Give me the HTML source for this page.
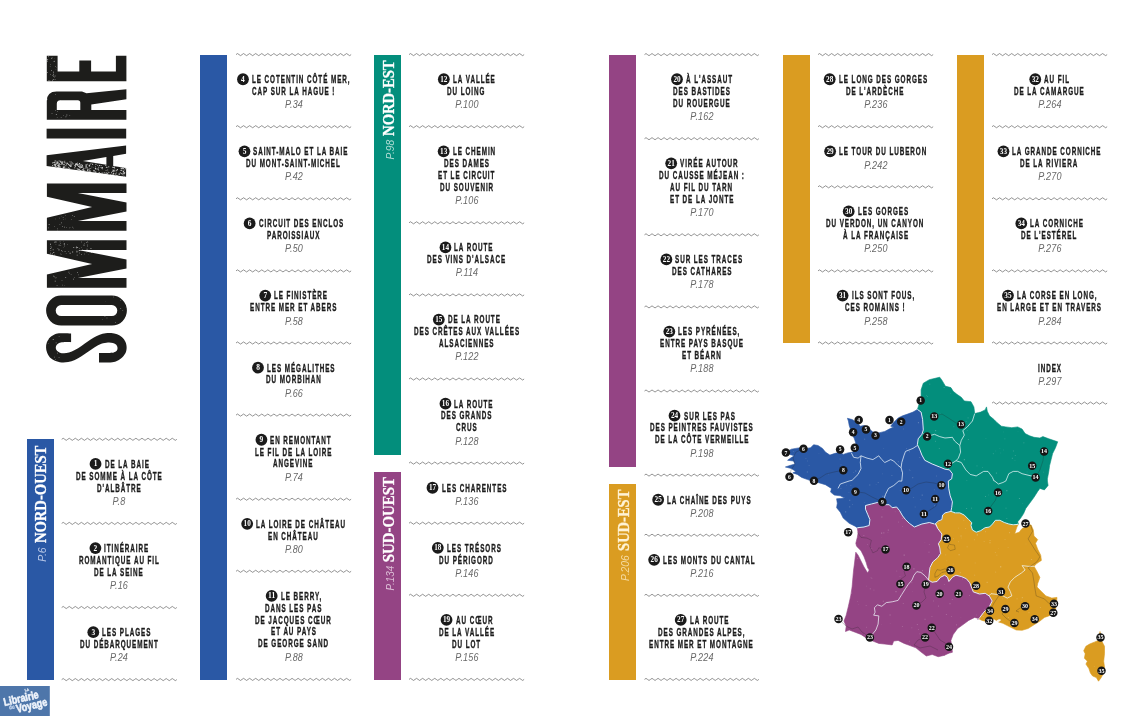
<!DOCTYPE html>
<html><head><meta charset="utf-8"><title>Sommaire</title>
<style>
html,body{margin:0;padding:0;background:#fff;}
body{width:1146px;height:716px;position:relative;overflow:hidden;font-family:"Liberation Sans",sans-serif;}
.bar{position:absolute;width:27.4px;}
.t{position:absolute;white-space:nowrap;font-weight:bold;font-size:10.3px;line-height:11.85px;height:11.85px;color:#1b1b1b;letter-spacing:1.52px;-webkit-text-stroke:0.35px #1b1b1b;transform-origin:0 50%;transform:scaleX(0.613);}
.p{position:absolute;white-space:nowrap;font-style:italic;font-size:10.5px;line-height:10px;color:#686868;text-align:center;letter-spacing:0.2px;transform:scaleX(0.86);transform-origin:50% 50%;}
svg{position:absolute;left:0;top:0;}
#w{position:absolute;left:0;top:0;width:1146px;height:716px;will-change:transform;}
</style></head><body><div id="w">

<div class="bar" style="left:27px;top:438.6px;height:241.2px;background:#2a58a5"></div>
<div class="bar" style="left:200.1px;top:54.6px;height:625.2px;background:#2a58a5"></div>
<div class="bar" style="left:374.1px;top:54.6px;height:400.4px;background:#038e7c"></div>
<div class="bar" style="left:374.1px;top:471.5px;height:208.3px;background:#944484"></div>
<div class="bar" style="left:609px;top:54.6px;height:412.6px;background:#944484"></div>
<div class="bar" style="left:609px;top:483.7px;height:196.1px;background:#da9c21"></div>
<div class="bar" style="left:782.8px;top:54.6px;height:288.6px;background:#da9c21"></div>
<div class="bar" style="left:956.7px;top:54.6px;height:288.6px;background:#da9c21"></div>
<div class="t" style="left:104.53px;top:458.87px">DE LA BAIE</div>
<div class="t" style="left:75.97px;top:470.72px">DE SOMME À LA CÔTE</div>
<div class="t" style="left:97.01px;top:482.57px">D'ALBÂTRE</div>
<div class="p" style="left:59.2px;width:120px;top:495.83px">P.8</div>
<div class="t" style="left:104.42px;top:542.97px">ITINÉRAIRE</div>
<div class="t" style="left:78.89px;top:554.82px">ROMANTIQUE AU FIL</div>
<div class="t" style="left:94.49px;top:566.67px">DE LA SEINE</div>
<div class="p" style="left:59.2px;width:120px;top:579.93px">P.16</div>
<div class="t" style="left:102.31px;top:627.07px">LES PLAGES</div>
<div class="t" style="left:79.88px;top:638.92px">DU DÉBARQUEMENT</div>
<div class="p" style="left:59.2px;width:120px;top:652.18px">P.24</div>
<div class="t" style="left:251.97px;top:74.17px">LE COTENTIN CÔTÉ MER,</div>
<div class="t" style="left:251.85px;top:86.02px">CAP SUR LA HAGUE !</div>
<div class="p" style="left:233.5px;width:120px;top:99.28px">P.34</div>
<div class="t" style="left:253.49px;top:146.27px">SAINT-MALO ET LA BAIE</div>
<div class="t" style="left:246.19px;top:158.12px">DU MONT-SAINT-MICHEL</div>
<div class="p" style="left:233.5px;width:120px;top:171.38px">P.42</div>
<div class="t" style="left:258.63px;top:218.37px">CIRCUIT DES ENCLOS</div>
<div class="t" style="left:266.92px;top:230.22px">PAROISSIAUX</div>
<div class="p" style="left:233.5px;width:120px;top:243.48px">P.50</div>
<div class="t" style="left:274.23px;top:290.47px">LE FINISTÈRE</div>
<div class="t" style="left:249.87px;top:302.32px">ENTRE MER ET ABERS</div>
<div class="p" style="left:233.5px;width:120px;top:315.58px">P.58</div>
<div class="t" style="left:266.98px;top:362.57px">LES MÉGALITHES</div>
<div class="t" style="left:265.64px;top:374.42px">DU MORBIHAN</div>
<div class="p" style="left:233.5px;width:120px;top:387.68px">P.66</div>
<div class="t" style="left:270.43px;top:434.67px">EN REMONTANT</div>
<div class="t" style="left:254.84px;top:446.52px">LE FIL DE LA LOIRE</div>
<div class="t" style="left:273.35px;top:458.37px">ANGEVINE</div>
<div class="p" style="left:233.5px;width:120px;top:471.63px">P.74</div>
<div class="t" style="left:256.18px;top:518.77px">LA LOIRE DE CHÂTEAU</div>
<div class="t" style="left:268.21px;top:530.62px">EN CHÂTEAU</div>
<div class="p" style="left:233.5px;width:120px;top:543.88px">P.80</div>
<div class="t" style="left:280.65px;top:590.87px">LE BERRY,</div>
<div class="t" style="left:264.88px;top:602.72px">DANS LES PAS</div>
<div class="t" style="left:255.18px;top:614.57px">DE JACQUES CŒUR</div>
<div class="t" style="left:270.60px;top:626.42px">ET AU PAYS</div>
<div class="t" style="left:258.10px;top:638.27px">DE GEORGE SAND</div>
<div class="p" style="left:233.5px;width:120px;top:651.53px">P.88</div>
<div class="t" style="left:452.83px;top:74.17px">LA VALLÉE</div>
<div class="t" style="left:447.41px;top:86.02px">DU LOING</div>
<div class="p" style="left:406.5px;width:120px;top:99.28px">P.100</div>
<div class="t" style="left:452.66px;top:146.27px">LE CHEMIN</div>
<div class="t" style="left:443.60px;top:158.12px">DES DAMES</div>
<div class="t" style="left:437.88px;top:169.97px">ET LE CIRCUIT</div>
<div class="t" style="left:439.51px;top:181.82px">DU SOUVENIR</div>
<div class="p" style="left:406.5px;width:120px;top:195.08px">P.106</div>
<div class="t" style="left:454.47px;top:242.37px">LA ROUTE</div>
<div class="t" style="left:427.02px;top:254.22px">DES VINS D'ALSACE</div>
<div class="p" style="left:406.5px;width:120px;top:267.48px">P.114</div>
<div class="t" style="left:447.81px;top:314.47px">DE LA ROUTE</div>
<div class="t" style="left:413.51px;top:326.32px">DES CRÊTES AUX VALLÉES</div>
<div class="t" style="left:438.81px;top:338.17px">ALSACIENNES</div>
<div class="p" style="left:406.5px;width:120px;top:351.43px">P.122</div>
<div class="t" style="left:454.47px;top:398.57px">LA ROUTE</div>
<div class="t" style="left:440.86px;top:410.42px">DES GRANDS</div>
<div class="t" style="left:455.76px;top:422.27px">CRUS</div>
<div class="p" style="left:406.5px;width:120px;top:435.53px">P.128</div>
<div class="t" style="left:441.50px;top:482.67px">LES CHARENTES</div>
<div class="p" style="left:406.5px;width:120px;top:495.93px">P.136</div>
<div class="t" style="left:446.81px;top:542.77px">LES TRÉSORS</div>
<div class="t" style="left:439.16px;top:554.62px">DU PÉRIGORD</div>
<div class="p" style="left:406.5px;width:120px;top:567.88px">P.146</div>
<div class="t" style="left:455.52px;top:614.87px">AU CŒUR</div>
<div class="t" style="left:438.52px;top:626.72px">DE LA VALLÉE</div>
<div class="t" style="left:452.02px;top:638.57px">DU LOT</div>
<div class="p" style="left:406.5px;width:120px;top:651.83px">P.156</div>
<div class="t" style="left:685.99px;top:74.17px">À L'ASSAUT</div>
<div class="t" style="left:672.89px;top:86.02px">DES BASTIDES</div>
<div class="t" style="left:673.01px;top:97.87px">DU ROUERGUE</div>
<div class="p" style="left:641.8px;width:120px;top:111.13px">P.162</div>
<div class="t" style="left:680.19px;top:158.27px">VIRÉE AUTOUR</div>
<div class="t" style="left:658.87px;top:170.12px">DU CAUSSE MÉJEAN :</div>
<div class="t" style="left:670.33px;top:181.97px">AU FIL DU TARN</div>
<div class="t" style="left:669.63px;top:193.82px">ET DE LA JONTE</div>
<div class="p" style="left:641.8px;width:120px;top:207.08px">P.170</div>
<div class="t" style="left:675.40px;top:254.37px">SUR LES TRACES</div>
<div class="t" style="left:671.55px;top:266.22px">DES CATHARES</div>
<div class="p" style="left:641.8px;width:120px;top:279.48px">P.178</div>
<div class="t" style="left:678.32px;top:326.47px">LES PYRÉNÉES,</div>
<div class="t" style="left:659.86px;top:338.32px">ENTRE PAYS BASQUE</div>
<div class="t" style="left:681.95px;top:350.17px">ET BÉARN</div>
<div class="p" style="left:641.8px;width:120px;top:363.43px">P.188</div>
<div class="t" style="left:683.52px;top:410.57px">SUR LES PAS</div>
<div class="t" style="left:649.99px;top:422.42px">DES PEINTRES FAUVISTES</div>
<div class="t" style="left:654.55px;top:434.27px">DE LA CÔTE VERMEILLE</div>
<div class="p" style="left:641.8px;width:120px;top:447.53px">P.198</div>
<div class="t" style="left:667.17px;top:494.67px">LA CHAÎNE DES PUYS</div>
<div class="p" style="left:641.8px;width:120px;top:507.93px">P.208</div>
<div class="t" style="left:663.14px;top:554.77px">LES MONTS DU CANTAL</div>
<div class="p" style="left:641.8px;width:120px;top:568.03px">P.216</div>
<div class="t" style="left:689.72px;top:614.87px">LA ROUTE</div>
<div class="t" style="left:658.11px;top:626.72px">DES GRANDES ALPES,</div>
<div class="t" style="left:649.47px;top:638.57px">ENTRE MER ET MONTAGNE</div>
<div class="p" style="left:641.8px;width:120px;top:651.83px">P.224</div>
<div class="t" style="left:838.70px;top:74.17px">LE LONG DES GORGES</div>
<div class="t" style="left:846.42px;top:86.02px">DE L'ARDÈCHE</div>
<div class="p" style="left:815.5px;width:120px;top:99.28px">P.236</div>
<div class="t" style="left:839.11px;top:146.27px">LE TOUR DU LUBERON</div>
<div class="p" style="left:815.5px;width:120px;top:159.53px">P.242</div>
<div class="t" style="left:857.68px;top:206.37px">LES GORGES</div>
<div class="t" style="left:826.43px;top:218.22px">DU VERDON, UN CANYON</div>
<div class="t" style="left:842.50px;top:230.07px">À LA FRANÇAISE</div>
<div class="p" style="left:815.5px;width:120px;top:243.33px">P.250</div>
<div class="t" style="left:851.61px;top:290.47px">ILS SONT FOUS,</div>
<div class="t" style="left:845.30px;top:302.32px">CES ROMAINS !</div>
<div class="p" style="left:815.5px;width:120px;top:315.58px">P.258</div>
<div class="t" style="left:1044.25px;top:74.17px">AU FIL</div>
<div class="t" style="left:1014.22px;top:86.02px">DE LA CAMARGUE</div>
<div class="p" style="left:989.5px;width:120px;top:99.28px">P.264</div>
<div class="t" style="left:1012.47px;top:146.27px">LA GRANDE CORNICHE</div>
<div class="t" style="left:1020.47px;top:158.12px">DE LA RIVIERA</div>
<div class="p" style="left:989.5px;width:120px;top:171.38px">P.270</div>
<div class="t" style="left:1030.29px;top:218.37px">LA CORNICHE</div>
<div class="t" style="left:1021.47px;top:230.22px">DE L'ESTÉREL</div>
<div class="p" style="left:989.5px;width:120px;top:243.48px">P.276</div>
<div class="t" style="left:1016.96px;top:290.47px">LA CORSE EN LONG,</div>
<div class="t" style="left:997.10px;top:302.32px">EN LARGE ET EN TRAVERS</div>
<div class="p" style="left:989.5px;width:120px;top:315.58px">P.284</div>
<div class="t" style="left:1037.59px;top:362.57px">INDEX</div>
<div class="p" style="left:989.5px;width:120px;top:375.83px">P.297</div>
<svg width="1146" height="716" viewBox="0 0 1146 716"><g fill="none" stroke="#6e6e6e" stroke-width="0.75" stroke-linejoin="round"><path d="M61.70,439.30q1.51,-2.08 3.03,0t3.03,0t3.03,0t3.03,0t3.03,0t3.03,0t3.03,0t3.03,0t3.03,0t3.03,0t3.03,0t3.03,0t3.03,0t3.03,0t3.03,0t3.03,0t3.03,0t3.03,0t3.03,0t3.03,0t3.03,0t3.03,0t3.03,0t3.03,0t3.03,0t3.03,0t3.03,0t3.03,0t3.03,0t3.03,0t3.03,0t3.03,0t3.03,0t3.03,0t3.03,0t3.03,0t3.03,0t3.03,0"/><path d="M61.70,523.40q1.51,-2.08 3.03,0t3.03,0t3.03,0t3.03,0t3.03,0t3.03,0t3.03,0t3.03,0t3.03,0t3.03,0t3.03,0t3.03,0t3.03,0t3.03,0t3.03,0t3.03,0t3.03,0t3.03,0t3.03,0t3.03,0t3.03,0t3.03,0t3.03,0t3.03,0t3.03,0t3.03,0t3.03,0t3.03,0t3.03,0t3.03,0t3.03,0t3.03,0t3.03,0t3.03,0t3.03,0t3.03,0t3.03,0t3.03,0"/><path d="M61.70,607.50q1.51,-2.08 3.03,0t3.03,0t3.03,0t3.03,0t3.03,0t3.03,0t3.03,0t3.03,0t3.03,0t3.03,0t3.03,0t3.03,0t3.03,0t3.03,0t3.03,0t3.03,0t3.03,0t3.03,0t3.03,0t3.03,0t3.03,0t3.03,0t3.03,0t3.03,0t3.03,0t3.03,0t3.03,0t3.03,0t3.03,0t3.03,0t3.03,0t3.03,0t3.03,0t3.03,0t3.03,0t3.03,0t3.03,0t3.03,0"/><path d="M61.70,679.60q1.51,-2.08 3.03,0t3.03,0t3.03,0t3.03,0t3.03,0t3.03,0t3.03,0t3.03,0t3.03,0t3.03,0t3.03,0t3.03,0t3.03,0t3.03,0t3.03,0t3.03,0t3.03,0t3.03,0t3.03,0t3.03,0t3.03,0t3.03,0t3.03,0t3.03,0t3.03,0t3.03,0t3.03,0t3.03,0t3.03,0t3.03,0t3.03,0t3.03,0t3.03,0t3.03,0t3.03,0t3.03,0t3.03,0t3.03,0"/><path d="M236.00,54.60q1.51,-2.08 3.03,0t3.03,0t3.03,0t3.03,0t3.03,0t3.03,0t3.03,0t3.03,0t3.03,0t3.03,0t3.03,0t3.03,0t3.03,0t3.03,0t3.03,0t3.03,0t3.03,0t3.03,0t3.03,0t3.03,0t3.03,0t3.03,0t3.03,0t3.03,0t3.03,0t3.03,0t3.03,0t3.03,0t3.03,0t3.03,0t3.03,0t3.03,0t3.03,0t3.03,0t3.03,0t3.03,0t3.03,0t3.03,0"/><path d="M236.00,126.70q1.51,-2.08 3.03,0t3.03,0t3.03,0t3.03,0t3.03,0t3.03,0t3.03,0t3.03,0t3.03,0t3.03,0t3.03,0t3.03,0t3.03,0t3.03,0t3.03,0t3.03,0t3.03,0t3.03,0t3.03,0t3.03,0t3.03,0t3.03,0t3.03,0t3.03,0t3.03,0t3.03,0t3.03,0t3.03,0t3.03,0t3.03,0t3.03,0t3.03,0t3.03,0t3.03,0t3.03,0t3.03,0t3.03,0t3.03,0"/><path d="M236.00,198.80q1.51,-2.08 3.03,0t3.03,0t3.03,0t3.03,0t3.03,0t3.03,0t3.03,0t3.03,0t3.03,0t3.03,0t3.03,0t3.03,0t3.03,0t3.03,0t3.03,0t3.03,0t3.03,0t3.03,0t3.03,0t3.03,0t3.03,0t3.03,0t3.03,0t3.03,0t3.03,0t3.03,0t3.03,0t3.03,0t3.03,0t3.03,0t3.03,0t3.03,0t3.03,0t3.03,0t3.03,0t3.03,0t3.03,0t3.03,0"/><path d="M236.00,270.90q1.51,-2.08 3.03,0t3.03,0t3.03,0t3.03,0t3.03,0t3.03,0t3.03,0t3.03,0t3.03,0t3.03,0t3.03,0t3.03,0t3.03,0t3.03,0t3.03,0t3.03,0t3.03,0t3.03,0t3.03,0t3.03,0t3.03,0t3.03,0t3.03,0t3.03,0t3.03,0t3.03,0t3.03,0t3.03,0t3.03,0t3.03,0t3.03,0t3.03,0t3.03,0t3.03,0t3.03,0t3.03,0t3.03,0t3.03,0"/><path d="M236.00,343.00q1.51,-2.08 3.03,0t3.03,0t3.03,0t3.03,0t3.03,0t3.03,0t3.03,0t3.03,0t3.03,0t3.03,0t3.03,0t3.03,0t3.03,0t3.03,0t3.03,0t3.03,0t3.03,0t3.03,0t3.03,0t3.03,0t3.03,0t3.03,0t3.03,0t3.03,0t3.03,0t3.03,0t3.03,0t3.03,0t3.03,0t3.03,0t3.03,0t3.03,0t3.03,0t3.03,0t3.03,0t3.03,0t3.03,0t3.03,0"/><path d="M236.00,415.10q1.51,-2.08 3.03,0t3.03,0t3.03,0t3.03,0t3.03,0t3.03,0t3.03,0t3.03,0t3.03,0t3.03,0t3.03,0t3.03,0t3.03,0t3.03,0t3.03,0t3.03,0t3.03,0t3.03,0t3.03,0t3.03,0t3.03,0t3.03,0t3.03,0t3.03,0t3.03,0t3.03,0t3.03,0t3.03,0t3.03,0t3.03,0t3.03,0t3.03,0t3.03,0t3.03,0t3.03,0t3.03,0t3.03,0t3.03,0"/><path d="M236.00,499.20q1.51,-2.08 3.03,0t3.03,0t3.03,0t3.03,0t3.03,0t3.03,0t3.03,0t3.03,0t3.03,0t3.03,0t3.03,0t3.03,0t3.03,0t3.03,0t3.03,0t3.03,0t3.03,0t3.03,0t3.03,0t3.03,0t3.03,0t3.03,0t3.03,0t3.03,0t3.03,0t3.03,0t3.03,0t3.03,0t3.03,0t3.03,0t3.03,0t3.03,0t3.03,0t3.03,0t3.03,0t3.03,0t3.03,0t3.03,0"/><path d="M236.00,571.30q1.51,-2.08 3.03,0t3.03,0t3.03,0t3.03,0t3.03,0t3.03,0t3.03,0t3.03,0t3.03,0t3.03,0t3.03,0t3.03,0t3.03,0t3.03,0t3.03,0t3.03,0t3.03,0t3.03,0t3.03,0t3.03,0t3.03,0t3.03,0t3.03,0t3.03,0t3.03,0t3.03,0t3.03,0t3.03,0t3.03,0t3.03,0t3.03,0t3.03,0t3.03,0t3.03,0t3.03,0t3.03,0t3.03,0t3.03,0"/><path d="M236.00,679.40q1.51,-2.08 3.03,0t3.03,0t3.03,0t3.03,0t3.03,0t3.03,0t3.03,0t3.03,0t3.03,0t3.03,0t3.03,0t3.03,0t3.03,0t3.03,0t3.03,0t3.03,0t3.03,0t3.03,0t3.03,0t3.03,0t3.03,0t3.03,0t3.03,0t3.03,0t3.03,0t3.03,0t3.03,0t3.03,0t3.03,0t3.03,0t3.03,0t3.03,0t3.03,0t3.03,0t3.03,0t3.03,0t3.03,0t3.03,0"/><path d="M409.00,54.60q1.51,-2.08 3.03,0t3.03,0t3.03,0t3.03,0t3.03,0t3.03,0t3.03,0t3.03,0t3.03,0t3.03,0t3.03,0t3.03,0t3.03,0t3.03,0t3.03,0t3.03,0t3.03,0t3.03,0t3.03,0t3.03,0t3.03,0t3.03,0t3.03,0t3.03,0t3.03,0t3.03,0t3.03,0t3.03,0t3.03,0t3.03,0t3.03,0t3.03,0t3.03,0t3.03,0t3.03,0t3.03,0t3.03,0t3.03,0"/><path d="M409.00,126.70q1.51,-2.08 3.03,0t3.03,0t3.03,0t3.03,0t3.03,0t3.03,0t3.03,0t3.03,0t3.03,0t3.03,0t3.03,0t3.03,0t3.03,0t3.03,0t3.03,0t3.03,0t3.03,0t3.03,0t3.03,0t3.03,0t3.03,0t3.03,0t3.03,0t3.03,0t3.03,0t3.03,0t3.03,0t3.03,0t3.03,0t3.03,0t3.03,0t3.03,0t3.03,0t3.03,0t3.03,0t3.03,0t3.03,0t3.03,0"/><path d="M409.00,222.80q1.51,-2.08 3.03,0t3.03,0t3.03,0t3.03,0t3.03,0t3.03,0t3.03,0t3.03,0t3.03,0t3.03,0t3.03,0t3.03,0t3.03,0t3.03,0t3.03,0t3.03,0t3.03,0t3.03,0t3.03,0t3.03,0t3.03,0t3.03,0t3.03,0t3.03,0t3.03,0t3.03,0t3.03,0t3.03,0t3.03,0t3.03,0t3.03,0t3.03,0t3.03,0t3.03,0t3.03,0t3.03,0t3.03,0t3.03,0"/><path d="M409.00,294.90q1.51,-2.08 3.03,0t3.03,0t3.03,0t3.03,0t3.03,0t3.03,0t3.03,0t3.03,0t3.03,0t3.03,0t3.03,0t3.03,0t3.03,0t3.03,0t3.03,0t3.03,0t3.03,0t3.03,0t3.03,0t3.03,0t3.03,0t3.03,0t3.03,0t3.03,0t3.03,0t3.03,0t3.03,0t3.03,0t3.03,0t3.03,0t3.03,0t3.03,0t3.03,0t3.03,0t3.03,0t3.03,0t3.03,0t3.03,0"/><path d="M409.00,379.00q1.51,-2.08 3.03,0t3.03,0t3.03,0t3.03,0t3.03,0t3.03,0t3.03,0t3.03,0t3.03,0t3.03,0t3.03,0t3.03,0t3.03,0t3.03,0t3.03,0t3.03,0t3.03,0t3.03,0t3.03,0t3.03,0t3.03,0t3.03,0t3.03,0t3.03,0t3.03,0t3.03,0t3.03,0t3.03,0t3.03,0t3.03,0t3.03,0t3.03,0t3.03,0t3.03,0t3.03,0t3.03,0t3.03,0t3.03,0"/><path d="M409.00,463.10q1.51,-2.08 3.03,0t3.03,0t3.03,0t3.03,0t3.03,0t3.03,0t3.03,0t3.03,0t3.03,0t3.03,0t3.03,0t3.03,0t3.03,0t3.03,0t3.03,0t3.03,0t3.03,0t3.03,0t3.03,0t3.03,0t3.03,0t3.03,0t3.03,0t3.03,0t3.03,0t3.03,0t3.03,0t3.03,0t3.03,0t3.03,0t3.03,0t3.03,0t3.03,0t3.03,0t3.03,0t3.03,0t3.03,0t3.03,0"/><path d="M409.00,523.20q1.51,-2.08 3.03,0t3.03,0t3.03,0t3.03,0t3.03,0t3.03,0t3.03,0t3.03,0t3.03,0t3.03,0t3.03,0t3.03,0t3.03,0t3.03,0t3.03,0t3.03,0t3.03,0t3.03,0t3.03,0t3.03,0t3.03,0t3.03,0t3.03,0t3.03,0t3.03,0t3.03,0t3.03,0t3.03,0t3.03,0t3.03,0t3.03,0t3.03,0t3.03,0t3.03,0t3.03,0t3.03,0t3.03,0t3.03,0"/><path d="M409.00,595.30q1.51,-2.08 3.03,0t3.03,0t3.03,0t3.03,0t3.03,0t3.03,0t3.03,0t3.03,0t3.03,0t3.03,0t3.03,0t3.03,0t3.03,0t3.03,0t3.03,0t3.03,0t3.03,0t3.03,0t3.03,0t3.03,0t3.03,0t3.03,0t3.03,0t3.03,0t3.03,0t3.03,0t3.03,0t3.03,0t3.03,0t3.03,0t3.03,0t3.03,0t3.03,0t3.03,0t3.03,0t3.03,0t3.03,0t3.03,0"/><path d="M409.00,679.40q1.51,-2.08 3.03,0t3.03,0t3.03,0t3.03,0t3.03,0t3.03,0t3.03,0t3.03,0t3.03,0t3.03,0t3.03,0t3.03,0t3.03,0t3.03,0t3.03,0t3.03,0t3.03,0t3.03,0t3.03,0t3.03,0t3.03,0t3.03,0t3.03,0t3.03,0t3.03,0t3.03,0t3.03,0t3.03,0t3.03,0t3.03,0t3.03,0t3.03,0t3.03,0t3.03,0t3.03,0t3.03,0t3.03,0t3.03,0"/><path d="M644.50,54.60q1.51,-2.08 3.01,0t3.01,0t3.01,0t3.01,0t3.01,0t3.01,0t3.01,0t3.01,0t3.01,0t3.01,0t3.01,0t3.01,0t3.01,0t3.01,0t3.01,0t3.01,0t3.01,0t3.01,0t3.01,0t3.01,0t3.01,0t3.01,0t3.01,0t3.01,0t3.01,0t3.01,0t3.01,0t3.01,0t3.01,0t3.01,0t3.01,0t3.01,0t3.01,0t3.01,0t3.01,0t3.01,0t3.01,0t3.01,0"/><path d="M644.50,138.70q1.51,-2.08 3.01,0t3.01,0t3.01,0t3.01,0t3.01,0t3.01,0t3.01,0t3.01,0t3.01,0t3.01,0t3.01,0t3.01,0t3.01,0t3.01,0t3.01,0t3.01,0t3.01,0t3.01,0t3.01,0t3.01,0t3.01,0t3.01,0t3.01,0t3.01,0t3.01,0t3.01,0t3.01,0t3.01,0t3.01,0t3.01,0t3.01,0t3.01,0t3.01,0t3.01,0t3.01,0t3.01,0t3.01,0t3.01,0"/><path d="M644.50,234.80q1.51,-2.08 3.01,0t3.01,0t3.01,0t3.01,0t3.01,0t3.01,0t3.01,0t3.01,0t3.01,0t3.01,0t3.01,0t3.01,0t3.01,0t3.01,0t3.01,0t3.01,0t3.01,0t3.01,0t3.01,0t3.01,0t3.01,0t3.01,0t3.01,0t3.01,0t3.01,0t3.01,0t3.01,0t3.01,0t3.01,0t3.01,0t3.01,0t3.01,0t3.01,0t3.01,0t3.01,0t3.01,0t3.01,0t3.01,0"/><path d="M644.50,306.90q1.51,-2.08 3.01,0t3.01,0t3.01,0t3.01,0t3.01,0t3.01,0t3.01,0t3.01,0t3.01,0t3.01,0t3.01,0t3.01,0t3.01,0t3.01,0t3.01,0t3.01,0t3.01,0t3.01,0t3.01,0t3.01,0t3.01,0t3.01,0t3.01,0t3.01,0t3.01,0t3.01,0t3.01,0t3.01,0t3.01,0t3.01,0t3.01,0t3.01,0t3.01,0t3.01,0t3.01,0t3.01,0t3.01,0t3.01,0"/><path d="M644.50,391.00q1.51,-2.08 3.01,0t3.01,0t3.01,0t3.01,0t3.01,0t3.01,0t3.01,0t3.01,0t3.01,0t3.01,0t3.01,0t3.01,0t3.01,0t3.01,0t3.01,0t3.01,0t3.01,0t3.01,0t3.01,0t3.01,0t3.01,0t3.01,0t3.01,0t3.01,0t3.01,0t3.01,0t3.01,0t3.01,0t3.01,0t3.01,0t3.01,0t3.01,0t3.01,0t3.01,0t3.01,0t3.01,0t3.01,0t3.01,0"/><path d="M644.50,475.10q1.51,-2.08 3.01,0t3.01,0t3.01,0t3.01,0t3.01,0t3.01,0t3.01,0t3.01,0t3.01,0t3.01,0t3.01,0t3.01,0t3.01,0t3.01,0t3.01,0t3.01,0t3.01,0t3.01,0t3.01,0t3.01,0t3.01,0t3.01,0t3.01,0t3.01,0t3.01,0t3.01,0t3.01,0t3.01,0t3.01,0t3.01,0t3.01,0t3.01,0t3.01,0t3.01,0t3.01,0t3.01,0t3.01,0t3.01,0"/><path d="M644.50,535.20q1.51,-2.08 3.01,0t3.01,0t3.01,0t3.01,0t3.01,0t3.01,0t3.01,0t3.01,0t3.01,0t3.01,0t3.01,0t3.01,0t3.01,0t3.01,0t3.01,0t3.01,0t3.01,0t3.01,0t3.01,0t3.01,0t3.01,0t3.01,0t3.01,0t3.01,0t3.01,0t3.01,0t3.01,0t3.01,0t3.01,0t3.01,0t3.01,0t3.01,0t3.01,0t3.01,0t3.01,0t3.01,0t3.01,0t3.01,0"/><path d="M644.50,595.30q1.51,-2.08 3.01,0t3.01,0t3.01,0t3.01,0t3.01,0t3.01,0t3.01,0t3.01,0t3.01,0t3.01,0t3.01,0t3.01,0t3.01,0t3.01,0t3.01,0t3.01,0t3.01,0t3.01,0t3.01,0t3.01,0t3.01,0t3.01,0t3.01,0t3.01,0t3.01,0t3.01,0t3.01,0t3.01,0t3.01,0t3.01,0t3.01,0t3.01,0t3.01,0t3.01,0t3.01,0t3.01,0t3.01,0t3.01,0"/><path d="M644.50,679.40q1.51,-2.08 3.01,0t3.01,0t3.01,0t3.01,0t3.01,0t3.01,0t3.01,0t3.01,0t3.01,0t3.01,0t3.01,0t3.01,0t3.01,0t3.01,0t3.01,0t3.01,0t3.01,0t3.01,0t3.01,0t3.01,0t3.01,0t3.01,0t3.01,0t3.01,0t3.01,0t3.01,0t3.01,0t3.01,0t3.01,0t3.01,0t3.01,0t3.01,0t3.01,0t3.01,0t3.01,0t3.01,0t3.01,0t3.01,0"/><path d="M818.00,54.60q1.51,-2.08 3.03,0t3.03,0t3.03,0t3.03,0t3.03,0t3.03,0t3.03,0t3.03,0t3.03,0t3.03,0t3.03,0t3.03,0t3.03,0t3.03,0t3.03,0t3.03,0t3.03,0t3.03,0t3.03,0t3.03,0t3.03,0t3.03,0t3.03,0t3.03,0t3.03,0t3.03,0t3.03,0t3.03,0t3.03,0t3.03,0t3.03,0t3.03,0t3.03,0t3.03,0t3.03,0t3.03,0t3.03,0t3.03,0"/><path d="M818.00,126.70q1.51,-2.08 3.03,0t3.03,0t3.03,0t3.03,0t3.03,0t3.03,0t3.03,0t3.03,0t3.03,0t3.03,0t3.03,0t3.03,0t3.03,0t3.03,0t3.03,0t3.03,0t3.03,0t3.03,0t3.03,0t3.03,0t3.03,0t3.03,0t3.03,0t3.03,0t3.03,0t3.03,0t3.03,0t3.03,0t3.03,0t3.03,0t3.03,0t3.03,0t3.03,0t3.03,0t3.03,0t3.03,0t3.03,0t3.03,0"/><path d="M818.00,186.80q1.51,-2.08 3.03,0t3.03,0t3.03,0t3.03,0t3.03,0t3.03,0t3.03,0t3.03,0t3.03,0t3.03,0t3.03,0t3.03,0t3.03,0t3.03,0t3.03,0t3.03,0t3.03,0t3.03,0t3.03,0t3.03,0t3.03,0t3.03,0t3.03,0t3.03,0t3.03,0t3.03,0t3.03,0t3.03,0t3.03,0t3.03,0t3.03,0t3.03,0t3.03,0t3.03,0t3.03,0t3.03,0t3.03,0t3.03,0"/><path d="M818.00,270.90q1.51,-2.08 3.03,0t3.03,0t3.03,0t3.03,0t3.03,0t3.03,0t3.03,0t3.03,0t3.03,0t3.03,0t3.03,0t3.03,0t3.03,0t3.03,0t3.03,0t3.03,0t3.03,0t3.03,0t3.03,0t3.03,0t3.03,0t3.03,0t3.03,0t3.03,0t3.03,0t3.03,0t3.03,0t3.03,0t3.03,0t3.03,0t3.03,0t3.03,0t3.03,0t3.03,0t3.03,0t3.03,0t3.03,0t3.03,0"/><path d="M818.00,343.00q1.51,-2.08 3.03,0t3.03,0t3.03,0t3.03,0t3.03,0t3.03,0t3.03,0t3.03,0t3.03,0t3.03,0t3.03,0t3.03,0t3.03,0t3.03,0t3.03,0t3.03,0t3.03,0t3.03,0t3.03,0t3.03,0t3.03,0t3.03,0t3.03,0t3.03,0t3.03,0t3.03,0t3.03,0t3.03,0t3.03,0t3.03,0t3.03,0t3.03,0t3.03,0t3.03,0t3.03,0t3.03,0t3.03,0t3.03,0"/><path d="M992.00,54.60q1.51,-2.08 3.03,0t3.03,0t3.03,0t3.03,0t3.03,0t3.03,0t3.03,0t3.03,0t3.03,0t3.03,0t3.03,0t3.03,0t3.03,0t3.03,0t3.03,0t3.03,0t3.03,0t3.03,0t3.03,0t3.03,0t3.03,0t3.03,0t3.03,0t3.03,0t3.03,0t3.03,0t3.03,0t3.03,0t3.03,0t3.03,0t3.03,0t3.03,0t3.03,0t3.03,0t3.03,0t3.03,0t3.03,0t3.03,0"/><path d="M992.00,126.70q1.51,-2.08 3.03,0t3.03,0t3.03,0t3.03,0t3.03,0t3.03,0t3.03,0t3.03,0t3.03,0t3.03,0t3.03,0t3.03,0t3.03,0t3.03,0t3.03,0t3.03,0t3.03,0t3.03,0t3.03,0t3.03,0t3.03,0t3.03,0t3.03,0t3.03,0t3.03,0t3.03,0t3.03,0t3.03,0t3.03,0t3.03,0t3.03,0t3.03,0t3.03,0t3.03,0t3.03,0t3.03,0t3.03,0t3.03,0"/><path d="M992.00,198.80q1.51,-2.08 3.03,0t3.03,0t3.03,0t3.03,0t3.03,0t3.03,0t3.03,0t3.03,0t3.03,0t3.03,0t3.03,0t3.03,0t3.03,0t3.03,0t3.03,0t3.03,0t3.03,0t3.03,0t3.03,0t3.03,0t3.03,0t3.03,0t3.03,0t3.03,0t3.03,0t3.03,0t3.03,0t3.03,0t3.03,0t3.03,0t3.03,0t3.03,0t3.03,0t3.03,0t3.03,0t3.03,0t3.03,0t3.03,0"/><path d="M992.00,270.90q1.51,-2.08 3.03,0t3.03,0t3.03,0t3.03,0t3.03,0t3.03,0t3.03,0t3.03,0t3.03,0t3.03,0t3.03,0t3.03,0t3.03,0t3.03,0t3.03,0t3.03,0t3.03,0t3.03,0t3.03,0t3.03,0t3.03,0t3.03,0t3.03,0t3.03,0t3.03,0t3.03,0t3.03,0t3.03,0t3.03,0t3.03,0t3.03,0t3.03,0t3.03,0t3.03,0t3.03,0t3.03,0t3.03,0t3.03,0"/><path d="M992.00,343.00q1.51,-2.08 3.03,0t3.03,0t3.03,0t3.03,0t3.03,0t3.03,0t3.03,0t3.03,0t3.03,0t3.03,0t3.03,0t3.03,0t3.03,0t3.03,0t3.03,0t3.03,0t3.03,0t3.03,0t3.03,0t3.03,0t3.03,0t3.03,0t3.03,0t3.03,0t3.03,0t3.03,0t3.03,0t3.03,0t3.03,0t3.03,0t3.03,0t3.03,0t3.03,0t3.03,0t3.03,0t3.03,0t3.03,0t3.03,0"/><path d="M992.00,403.10q1.51,-2.08 3.03,0t3.03,0t3.03,0t3.03,0t3.03,0t3.03,0t3.03,0t3.03,0t3.03,0t3.03,0t3.03,0t3.03,0t3.03,0t3.03,0t3.03,0t3.03,0t3.03,0t3.03,0t3.03,0t3.03,0t3.03,0t3.03,0t3.03,0t3.03,0t3.03,0t3.03,0t3.03,0t3.03,0t3.03,0t3.03,0t3.03,0t3.03,0t3.03,0t3.03,0t3.03,0t3.03,0t3.03,0t3.03,0"/></g><g fill="#1b1b1b" font-family="Liberation Serif" font-weight="bold" font-size="7.4" text-anchor="middle"><circle cx="95.53" cy="463.95" r="5.90"/><text fill="#fff" x="95.53" y="466.40">1</text><circle cx="95.42" cy="548.05" r="5.90"/><text fill="#fff" x="95.42" y="550.50">2</text><circle cx="93.31" cy="632.15" r="5.90"/><text fill="#fff" x="93.31" y="634.60">3</text><circle cx="242.97" cy="79.25" r="5.90"/><text fill="#fff" x="242.97" y="81.70">4</text><circle cx="244.49" cy="151.35" r="5.90"/><text fill="#fff" x="244.49" y="153.80">5</text><circle cx="249.63" cy="223.45" r="5.90"/><text fill="#fff" x="249.63" y="225.90">6</text><circle cx="265.23" cy="295.55" r="5.90"/><text fill="#fff" x="265.23" y="298.00">7</text><circle cx="257.98" cy="367.65" r="5.90"/><text fill="#fff" x="257.98" y="370.10">8</text><circle cx="261.43" cy="439.75" r="5.90"/><text fill="#fff" x="261.43" y="442.20">9</text><circle cx="247.18" cy="523.85" r="5.90"/><text fill="#fff" x="247.18" y="526.30" textLength="7.2" lengthAdjust="spacingAndGlyphs">10</text><circle cx="271.65" cy="595.95" r="5.90"/><text fill="#fff" x="271.65" y="598.40" textLength="7.2" lengthAdjust="spacingAndGlyphs">11</text><circle cx="443.83" cy="79.25" r="5.90"/><text fill="#fff" x="443.83" y="81.70" textLength="7.2" lengthAdjust="spacingAndGlyphs">12</text><circle cx="443.66" cy="151.35" r="5.90"/><text fill="#fff" x="443.66" y="153.80" textLength="7.2" lengthAdjust="spacingAndGlyphs">13</text><circle cx="445.47" cy="247.45" r="5.90"/><text fill="#fff" x="445.47" y="249.90" textLength="7.2" lengthAdjust="spacingAndGlyphs">14</text><circle cx="438.81" cy="319.55" r="5.90"/><text fill="#fff" x="438.81" y="322.00" textLength="7.2" lengthAdjust="spacingAndGlyphs">15</text><circle cx="445.47" cy="403.65" r="5.90"/><text fill="#fff" x="445.47" y="406.10" textLength="7.2" lengthAdjust="spacingAndGlyphs">16</text><circle cx="432.50" cy="487.75" r="5.90"/><text fill="#fff" x="432.50" y="490.20" textLength="7.2" lengthAdjust="spacingAndGlyphs">17</text><circle cx="437.81" cy="547.85" r="5.90"/><text fill="#fff" x="437.81" y="550.30" textLength="7.2" lengthAdjust="spacingAndGlyphs">18</text><circle cx="446.52" cy="619.95" r="5.90"/><text fill="#fff" x="446.52" y="622.40" textLength="7.2" lengthAdjust="spacingAndGlyphs">19</text><circle cx="676.99" cy="79.25" r="5.90"/><text fill="#fff" x="676.99" y="81.70" textLength="7.2" lengthAdjust="spacingAndGlyphs">20</text><circle cx="671.19" cy="163.35" r="5.90"/><text fill="#fff" x="671.19" y="165.80" textLength="7.2" lengthAdjust="spacingAndGlyphs">21</text><circle cx="666.40" cy="259.45" r="5.90"/><text fill="#fff" x="666.40" y="261.90" textLength="7.2" lengthAdjust="spacingAndGlyphs">22</text><circle cx="669.32" cy="331.55" r="5.90"/><text fill="#fff" x="669.32" y="334.00" textLength="7.2" lengthAdjust="spacingAndGlyphs">23</text><circle cx="674.52" cy="415.65" r="5.90"/><text fill="#fff" x="674.52" y="418.10" textLength="7.2" lengthAdjust="spacingAndGlyphs">24</text><circle cx="658.17" cy="499.75" r="5.90"/><text fill="#fff" x="658.17" y="502.20" textLength="7.2" lengthAdjust="spacingAndGlyphs">25</text><circle cx="654.14" cy="559.85" r="5.90"/><text fill="#fff" x="654.14" y="562.30" textLength="7.2" lengthAdjust="spacingAndGlyphs">26</text><circle cx="680.72" cy="619.95" r="5.90"/><text fill="#fff" x="680.72" y="622.40" textLength="7.2" lengthAdjust="spacingAndGlyphs">27</text><circle cx="829.70" cy="79.25" r="5.90"/><text fill="#fff" x="829.70" y="81.70" textLength="7.2" lengthAdjust="spacingAndGlyphs">28</text><circle cx="830.11" cy="151.35" r="5.90"/><text fill="#fff" x="830.11" y="153.80" textLength="7.2" lengthAdjust="spacingAndGlyphs">29</text><circle cx="848.68" cy="211.45" r="5.90"/><text fill="#fff" x="848.68" y="213.90" textLength="7.2" lengthAdjust="spacingAndGlyphs">30</text><circle cx="842.61" cy="295.55" r="5.90"/><text fill="#fff" x="842.61" y="298.00" textLength="7.2" lengthAdjust="spacingAndGlyphs">31</text><circle cx="1035.25" cy="79.25" r="5.90"/><text fill="#fff" x="1035.25" y="81.70" textLength="7.2" lengthAdjust="spacingAndGlyphs">32</text><circle cx="1003.47" cy="151.35" r="5.90"/><text fill="#fff" x="1003.47" y="153.80" textLength="7.2" lengthAdjust="spacingAndGlyphs">33</text><circle cx="1021.29" cy="223.45" r="5.90"/><text fill="#fff" x="1021.29" y="225.90" textLength="7.2" lengthAdjust="spacingAndGlyphs">34</text><circle cx="1007.96" cy="295.55" r="5.90"/><text fill="#fff" x="1007.96" y="298.00" textLength="7.2" lengthAdjust="spacingAndGlyphs">35</text></g></svg>
<svg width="1146" height="716" viewBox="0 0 1146 716"><text transform="translate(46.0,543.1) rotate(-90)" textLength="97.4" lengthAdjust="spacingAndGlyphs" font-family="Liberation Serif" font-weight="bold" font-size="16.2" fill="#ffffff" stroke="#ffffff" stroke-width="0.3">NORD-OUEST</text><text transform="translate(46.0,561.7) rotate(-90)" textLength="14.3" lengthAdjust="spacingAndGlyphs" font-family="Liberation Sans" font-style="italic" font-size="10.6" fill="#b9c8e8">P.6</text><text transform="translate(393.7,135.9) rotate(-90)" textLength="75.4" lengthAdjust="spacingAndGlyphs" font-family="Liberation Serif" font-weight="bold" font-size="16.2" fill="#ffffff" stroke="#ffffff" stroke-width="0.3">NORD-EST</text><text transform="translate(393.7,159.6) rotate(-90)" textLength="19.8" lengthAdjust="spacingAndGlyphs" font-family="Liberation Sans" font-style="italic" font-size="10.6" fill="#b0ddd4">P.98</text><text transform="translate(393.6,562.3) rotate(-90)" textLength="85.2" lengthAdjust="spacingAndGlyphs" font-family="Liberation Serif" font-weight="bold" font-size="16.2" fill="#ffffff" stroke="#ffffff" stroke-width="0.3">SUD-OUEST</text><text transform="translate(393.6,590.4) rotate(-90)" textLength="24.6" lengthAdjust="spacingAndGlyphs" font-family="Liberation Sans" font-style="italic" font-size="10.6" fill="#dcbdd6">P.134</text><text transform="translate(629.0,550.9) rotate(-90)" textLength="61.2" lengthAdjust="spacingAndGlyphs" font-family="Liberation Serif" font-weight="bold" font-size="16.2" fill="#fff3d6" stroke="#fff3d6" stroke-width="0.3">SUD-EST</text><text transform="translate(629.0,580.9) rotate(-90)" textLength="25.7" lengthAdjust="spacingAndGlyphs" font-family="Liberation Sans" font-style="italic" font-size="10.6" fill="#f5dba2">P.206</text></svg>
<svg width="1146" height="716" viewBox="0 0 1146 716"><path d="M71.09,333.46 C69.36,333.43 63.42,333.16 60.72,333.30 C58.03,333.43 56.72,333.57 54.92,334.29 C53.13,335.01 51.30,336.22 49.95,337.61 C48.59,338.99 47.45,340.92 46.80,342.58 C46.15,344.24 46.01,345.90 46.05,347.55 C46.09,349.21 46.40,350.87 47.05,352.53 C47.70,354.19 48.64,356.12 49.95,357.50 C51.26,358.88 52.99,359.99 54.92,360.82 C56.86,361.65 59.34,362.27 61.55,362.48 C63.76,362.68 65.97,362.48 68.19,362.06 C70.40,361.65 72.61,360.96 74.82,359.99 C77.03,359.02 79.24,357.64 81.45,356.26 C83.66,354.88 85.87,353.22 88.08,351.70 C90.29,350.18 92.50,348.45 94.71,347.14 C96.92,345.83 99.13,344.58 101.34,343.82 C103.56,343.06 106.04,342.72 107.98,342.58 C109.91,342.44 111.57,342.65 112.95,342.99 C114.33,343.34 115.51,343.86 116.27,344.65 C117.03,345.44 117.44,346.68 117.51,347.72 C117.58,348.76 117.30,350.07 116.68,350.87 C116.06,351.67 114.95,352.18 113.78,352.53 C112.60,352.87 112.09,352.87 109.63,352.94 C107.18,353.01 100.79,352.94 99.02,352.94 L99.02,362.48 C100.93,362.48 107.59,362.68 110.46,362.48 C113.34,362.27 114.47,361.92 116.27,361.23 C118.06,360.54 119.72,359.64 121.24,358.33 C122.76,357.02 124.49,355.15 125.39,353.36 C126.28,351.56 126.63,349.49 126.63,347.55 C126.63,345.62 126.14,343.48 125.39,341.75 C124.63,340.02 123.45,338.43 122.07,337.19 C120.69,335.95 118.89,334.98 117.10,334.29 C115.30,333.60 113.23,333.21 111.29,333.05 C109.36,332.88 107.42,333.02 105.49,333.30 C103.56,333.57 101.62,333.99 99.69,334.70 C97.75,335.42 95.82,336.50 93.88,337.61 C91.95,338.71 90.15,339.95 88.08,341.34 C86.01,342.72 83.66,344.44 81.45,345.90 C79.24,347.35 76.89,348.94 74.82,350.04 C72.74,351.15 70.81,352.00 69.01,352.53 C67.22,353.05 65.56,353.16 64.04,353.19 C62.52,353.22 61.07,353.08 59.90,352.69 C58.72,352.31 57.68,351.66 56.99,350.87 C56.30,350.08 55.82,348.94 55.75,347.97 C55.68,347.00 56.03,345.90 56.58,345.07 C57.13,344.24 57.96,343.48 59.07,342.99 C60.17,342.51 61.21,342.30 63.21,342.17 C65.21,342.03 69.77,342.17 71.09,342.17Z" fill="#1d1d1b"/>
<rect x="50.9" y="300.3" width="71.2" height="20.5" rx="10.2" ry="10.2" fill="none" stroke="#1d1d1b" stroke-width="9.6"/>
<polygon points="46.9,183.4 126.5,183.4 126.5,193.1 77.9,193.1 126.5,202.6 126.5,211.5 77.9,221.1 126.5,221.1 126.5,230.8 46.9,230.8 46.9,217.7 92.1,207.1 46.9,196.8" fill="#1d1d1b"/>
<polygon points="46.9,240.2 126.5,240.2 126.5,249.9 77.9,249.9 126.5,259.4 126.5,268.4 77.9,277.9 126.5,277.9 126.5,287.7 46.9,287.7 46.9,274.6 92.1,263.9 46.9,253.7" fill="#1d1d1b"/>
<path d="M46.6,155.2 L126.1,145.6 L126.1,153.7 L113.2,155.9 L113.2,165.9 L126.1,167.9 L126.1,176.7 L46.6,165.9Z M82.9,161.1 L106.4,157.1 L106.4,164.8Z" fill="#1d1d1b" fill-rule="evenodd"/>
<rect x="46.6" y="128.7" width="79.6" height="9.8" fill="#1d1d1b"/>
<path d="M46.8,119.7 L126.4,119.7 L126.4,109.9 L91.3,109.9 L91.3,104.5 L126.4,99.2 L126.4,89.3 L86.5,93.3 L82,91.5 L56.5,91.4 Q46.8,91.4 46.8,101 Z M56.8,109.9 L56.8,103.8 Q56.8,100.3 60.3,100.3 L77.8,100.3 Q80.3,100.3 80.3,102.8 L80.3,109.9 Z" fill="#1d1d1b" fill-rule="evenodd"/>
<polygon points="46.8,81.2 126.4,81.2 126.4,55.8 115.9,55.8 115.9,71.5 91.1,71.5 91.1,60.5 79.3,60.5 79.3,71.5 57.6,71.5 57.6,55.8 46.8,55.8" fill="#1d1d1b"/>
<path d="M76.0,163.0h1.1v0.5h-1.1zM91.7,166.6h0.5v0.9h-0.5zM54.8,163.2h0.5v0.5h-0.5zM83.4,169.5h0.5v0.6h-0.5zM98.4,172.5h1.0v0.8h-1.0zM124.2,167.2h1.3v0.7h-1.3zM62.7,161.4h0.7v1.2h-0.7zM65.4,165.2h1.0v0.8h-1.0zM92.5,164.0h0.5v0.6h-0.5zM102.3,168.3h0.7v1.0h-0.7zM85.5,165.3h1.2v1.1h-1.2zM70.1,165.7h0.9v1.3h-0.9zM106.0,167.5h1.4v0.5h-1.4zM82.9,168.8h0.6v0.9h-0.6zM54.9,164.8h1.2v1.0h-1.2zM116.8,168.9h1.1v1.0h-1.1zM94.9,167.7h1.2v1.3h-1.2zM87.1,168.6h0.5v1.1h-0.5zM99.9,173.1h1.2v0.7h-1.2zM80.5,167.8h0.4v0.9h-0.4zM64.4,161.5h0.5v1.2h-0.5zM61.6,162.2h0.8v1.3h-0.8zM58.0,163.5h0.9v1.3h-0.9zM112.6,173.6h0.7v0.8h-0.7zM78.5,169.3h1.4v0.6h-1.4zM65.0,162.5h0.6v0.9h-0.6zM95.6,166.1h0.4v0.8h-0.4zM79.3,166.8h1.4v1.1h-1.4zM90.1,168.5h1.1v0.5h-1.1zM118.6,173.6h1.3v1.2h-1.3zM81.0,165.6h0.5v1.0h-0.5zM56.6,160.7h0.6v0.6h-0.6zM77.2,162.4h0.4v0.6h-0.4zM59.5,162.9h0.4v1.3h-0.4zM97.4,165.3h0.7v0.7h-0.7zM78.9,163.1h1.2v1.4h-1.2zM86.5,167.0h0.5v0.5h-0.5zM77.4,164.1h1.2v0.6h-1.2zM53.7,166.5h0.9v0.5h-0.9zM92.2,163.7h0.9v1.4h-0.9zM115.9,172.4h0.7v0.8h-0.7zM64.4,166.6h0.9v1.2h-0.9zM76.4,163.7h1.2v1.4h-1.2zM115.1,173.4h1.2v1.1h-1.2zM68.8,165.1h0.8v0.4h-0.8zM54.1,162.1h0.7v1.1h-0.7zM122.8,170.9h1.3v1.4h-1.3zM122.7,170.1h0.6v0.6h-0.6zM66.6,162.4h1.0v1.3h-1.0zM114.2,170.2h1.1v1.2h-1.1zM58.3,165.0h1.3v1.2h-1.3zM107.5,169.4h0.6v1.2h-0.6zM76.6,168.4h1.4v0.8h-1.4zM81.7,170.2h1.1v0.6h-1.1zM61.4,161.5h1.3v1.2h-1.3zM62.8,166.8h1.4v1.1h-1.4zM77.9,166.5h0.5v0.4h-0.5zM123.8,173.0h0.9v1.3h-0.9zM84.1,169.9h1.2v0.6h-1.2zM70.6,163.6h0.6v1.0h-0.6zM71.2,164.6h0.5v1.3h-0.5zM78.2,165.8h1.0v1.3h-1.0zM83.1,170.2h0.9v0.9h-0.9zM90.7,163.5h0.8v0.6h-0.8zM52.3,165.4h0.6v0.9h-0.6zM105.7,169.9h0.7v0.9h-0.7zM93.1,170.3h0.5v1.0h-0.5zM70.4,163.4h1.2v0.9h-1.2zM93.6,170.2h1.3v0.8h-1.3zM97.3,168.4h0.9v1.1h-0.9zM85.5,167.3h0.9v1.3h-0.9zM103.7,172.5h1.3v0.7h-1.3zM93.4,171.8h1.2v0.5h-1.2zM61.0,163.6h0.5v0.6h-0.5zM57.4,165.0h1.2v1.3h-1.2zM63.4,166.0h1.1v0.5h-1.1zM117.3,175.2h0.6v1.4h-0.6zM81.5,166.4h1.4v1.2h-1.4zM63.9,163.9h0.9v0.7h-0.9zM66.5,163.3h1.1v0.4h-1.1zM93.0,167.4h0.4v0.7h-0.4zM98.2,168.6h0.5v1.4h-0.5zM110.3,174.3h0.5v0.7h-0.5zM54.9,165.5h0.7v0.5h-0.7zM83.2,170.1h1.2v0.7h-1.2zM63.1,167.5h1.0v1.1h-1.0zM58.6,160.6h1.1v0.8h-1.1zM57.4,166.9h1.0v1.2h-1.0zM58.2,166.4h0.5v1.3h-0.5zM85.6,165.6h1.0v1.3h-1.0zM71.8,162.4h0.9v0.6h-0.9zM60.1,161.4h0.5v0.6h-0.5zM75.1,164.2h1.2v0.7h-1.2zM89.0,164.7h0.7v0.4h-0.7zM70.5,161.4h1.1v1.0h-1.1zM66.0,164.5h1.3v0.5h-1.3zM112.6,169.6h0.9v1.2h-0.9zM81.1,166.5h1.1v1.4h-1.1zM77.4,168.7h1.1v1.0h-1.1zM81.9,165.3h0.5v0.5h-0.5zM57.2,165.5h0.7v0.6h-0.7zM58.3,166.3h1.3v1.1h-1.3zM72.9,163.4h0.7v0.9h-0.7zM63.7,164.0h0.7v1.4h-0.7zM124.0,172.0h0.6v1.4h-0.6zM74.9,164.6h0.4v0.8h-0.4zM87.1,167.2h0.6v0.9h-0.6zM52.4,161.9h0.5v0.8h-0.5zM55.1,160.4h0.7v0.6h-0.7zM95.3,168.4h1.2v1.1h-1.2zM105.0,172.7h0.8v0.7h-0.8zM124.9,168.2h1.1v1.0h-1.1zM55.2,165.9h1.3v1.0h-1.3zM106.3,172.3h0.5v0.9h-0.5zM89.3,170.3h1.2v1.2h-1.2zM95.2,171.6h1.1v1.1h-1.1zM69.0,161.4h0.5v0.8h-0.5zM59.8,166.5h1.0v1.0h-1.0zM98.3,170.1h0.9v0.4h-0.9zM111.0,172.3h0.9v0.9h-0.9zM100.8,164.9h1.1v0.7h-1.1zM57.5,162.1h1.1v0.6h-1.1zM106.7,173.8h0.9v0.8h-0.9zM87.4,168.8h1.2v1.0h-1.2zM99.6,164.9h0.5v0.7h-0.5zM107.0,167.7h1.0v0.4h-1.0zM56.5,162.1h1.1v1.1h-1.1zM102.0,167.1h0.9v0.9h-0.9zM86.5,163.9h1.3v0.6h-1.3zM124.4,175.8h0.4v0.9h-0.4zM112.7,174.6h0.8v0.7h-0.8zM67.5,168.3h0.6v1.0h-0.6zM62.5,164.4h1.4v0.5h-1.4zM112.7,170.3h1.3v1.1h-1.3zM69.1,168.2h0.9v0.4h-0.9zM52.3,163.4h0.9v0.7h-0.9zM62.4,163.1h0.7v1.2h-0.7zM52.1,165.0h1.2v0.5h-1.2zM120.6,173.2h1.3v0.7h-1.3zM79.5,165.4h1.4v1.0h-1.4zM78.7,165.6h0.7v0.4h-0.7zM59.5,166.4h0.7v1.3h-0.7zM70.5,163.4h0.9v0.6h-0.9zM79.6,170.0h1.3v1.2h-1.3zM98.7,172.2h1.3v0.9h-1.3zM105.2,165.2h1.1v0.9h-1.1zM107.7,170.9h0.7v0.4h-0.7zM120.6,167.6h0.9v0.7h-0.9zM74.0,167.5h1.4v0.7h-1.4zM100.5,167.0h1.0v0.8h-1.0zM64.4,161.9h0.6v1.3h-0.6zM88.8,165.0h1.3v1.4h-1.3zM85.3,163.9h0.6v0.5h-0.6zM77.3,162.7h0.6v0.7h-0.6zM94.2,171.4h1.1v0.8h-1.1zM82.6,166.8h0.8v0.7h-0.8zM56.6,162.2h1.4v0.5h-1.4zM89.3,168.5h1.3v0.6h-1.3zM72.1,163.4h0.8v0.8h-0.8zM122.6,174.8h1.3v0.4h-1.3zM54.4,165.0h1.3v0.9h-1.3zM95.5,163.8h0.8v1.3h-0.8zM113.1,173.6h1.4v0.6h-1.4zM60.1,161.4h0.9v1.1h-0.9zM121.7,173.4h1.0v1.2h-1.0zM85.8,167.5h0.4v1.2h-0.4zM69.2,168.3h1.0v0.7h-1.0zM61.5,162.3h1.0v1.1h-1.0zM60.3,160.8h0.9v1.0h-0.9zM80.7,164.1h1.0v0.4h-1.0zM74.3,165.3h1.4v1.0h-1.4zM117.4,170.5h0.6v0.6h-0.6zM123.1,173.4h0.7v0.4h-0.7zM88.9,168.9h0.8v0.7h-0.8zM101.4,172.7h0.6v0.4h-0.6zM77.0,165.3h1.1v0.6h-1.1zM111.0,172.2h0.9v0.6h-0.9zM123.8,169.7h1.2v0.6h-1.2zM68.4,167.0h0.7v1.4h-0.7zM88.7,164.7h0.6v0.8h-0.6zM101.2,172.9h0.5v0.8h-0.5zM67.8,168.6h0.5v0.5h-0.5zM56.5,163.0h1.3v1.3h-1.3zM106.2,174.0h1.3v0.7h-1.3zM65.7,168.0h1.1v0.4h-1.1zM101.2,167.8h0.8v0.7h-0.8zM64.5,160.7h0.7v0.8h-0.7zM122.7,167.8h1.4v0.6h-1.4zM78.4,168.8h1.2v0.8h-1.2zM55.6,163.5h0.8v1.3h-0.8zM66.3,163.7h1.3v0.4h-1.3zM82.4,169.2h1.2v0.4h-1.2zM54.6,160.6h1.3v0.7h-1.3zM107.3,173.2h0.7v0.7h-0.7zM122.9,172.6h0.7v1.1h-0.7zM75.4,164.0h0.4v1.2h-0.4zM119.8,172.3h1.3v0.4h-1.3zM69.3,164.9h1.4v1.4h-1.4zM80.6,164.4h0.8v0.9h-0.8zM120.7,168.1h1.2v1.1h-1.2zM112.9,172.8h1.0v0.7h-1.0zM75.6,164.7h1.2v0.5h-1.2zM66.6,166.7h0.6v0.5h-0.6zM54.5,163.9h0.7v1.4h-0.7zM117.4,175.4h0.7v0.5h-0.7zM59.1,163.9h1.1v0.8h-1.1zM69.3,164.4h1.0v1.1h-1.0zM107.4,172.8h1.1v0.5h-1.1zM114.2,168.5h1.0v0.8h-1.0zM106.6,166.7h0.6v0.6h-0.6zM63.3,167.3h1.0v0.7h-1.0zM81.3,170.6h0.9v0.6h-0.9zM111.8,171.5h1.4v0.5h-1.4zM87.1,169.9h1.2v1.3h-1.2zM55.0,162.2h0.5v0.6h-0.5zM124.0,172.4h1.3v0.8h-1.3zM116.1,170.1h0.7v1.2h-0.7zM122.0,167.5h1.0v1.0h-1.0zM68.1,163.9h0.5v0.6h-0.5zM70.9,166.0h1.1v0.6h-1.1zM52.8,162.3h1.1v0.6h-1.1zM75.1,163.4h1.2v0.9h-1.2zM56.7,160.9h0.8v1.0h-0.8zM99.3,165.0h0.6v1.1h-0.6zM82.3,164.8h0.7v1.4h-0.7zM75.1,166.3h0.8v0.8h-0.8zM116.0,175.3h0.8v0.6h-0.8zM105.9,166.7h0.4v1.3h-0.4zM83.4,169.4h0.8v1.3h-0.8zM86.1,164.2h0.4v1.0h-0.4zM99.4,172.3h0.5v1.0h-0.5zM79.4,166.3h0.5v0.7h-0.5zM90.6,171.2h0.5v0.9h-0.5zM111.6,174.4h0.6v0.5h-0.6zM121.8,175.9h0.9v0.5h-0.9zM120.5,170.1h1.3v1.0h-1.3zM113.0,167.1h1.2v0.6h-1.2zM81.9,169.4h1.2v0.6h-1.2zM68.1,164.1h0.9v0.8h-0.9zM61.1,162.2h1.1v1.3h-1.1zM55.0,164.1h1.2v0.4h-1.2zM114.0,166.8h1.0v1.0h-1.0zM98.4,166.8h0.8v1.0h-0.8zM83.5,168.1h0.8v0.8h-0.8zM53.7,164.3h0.9v0.6h-0.9zM108.5,172.3h0.9v0.6h-0.9zM87.0,163.8h0.5v0.8h-0.5zM58.8,163.5h0.9v0.4h-0.9zM99.1,164.9h1.1v1.2h-1.1zM89.8,163.7h0.9v0.8h-0.9zM122.4,167.8h1.3v1.4h-1.3zM106.2,172.3h0.6v1.4h-0.6zM88.4,171.2h1.3v0.6h-1.3zM110.3,173.9h0.5v0.8h-0.5zM108.0,166.5h1.3v0.7h-1.3zM112.4,166.8h0.9v1.3h-0.9zM67.4,163.0h0.9v0.7h-0.9zM54.7,161.4h0.6v1.3h-0.6zM102.3,172.5h0.6v1.2h-0.6zM60.5,164.3h1.0v0.8h-1.0zM86.7,248.8h0.7v0.9h-0.7zM54.4,254.9h0.7v0.6h-0.7zM83.5,244.7h1.0v0.7h-1.0zM65.1,251.7h0.6v0.4h-0.6zM81.2,241.7h0.9v0.5h-0.9zM76.8,254.8h0.7v0.8h-0.7zM63.1,241.0h0.3v0.4h-0.3zM75.9,247.1h0.7v0.9h-0.7zM55.5,244.2h0.8v0.3h-0.8zM50.1,246.0h0.4v0.6h-0.4zM59.4,249.2h0.7v0.4h-0.7zM76.2,247.6h0.4v1.0h-0.4zM60.2,243.1h0.4v0.7h-0.4zM86.6,252.0h0.6v0.5h-0.6zM50.5,250.0h0.7v0.5h-0.7zM77.1,247.2h1.0v0.8h-1.0zM60.4,253.6h0.3v0.7h-0.3zM67.1,244.3h0.3v0.8h-0.3zM50.5,248.7h1.0v0.4h-1.0zM58.4,249.5h0.7v0.7h-0.7zM84.2,243.4h0.5v0.5h-0.5zM52.0,253.5h0.8v0.8h-0.8zM50.3,252.8h0.8v0.6h-0.8zM81.2,247.3h0.5v0.4h-0.5zM59.8,241.5h0.5v0.8h-0.5zM79.2,252.8h0.8v0.5h-0.8zM73.3,247.1h0.9v0.7h-0.9zM61.1,250.0h1.0v0.5h-1.0zM87.0,241.2h0.5v0.5h-0.5zM81.2,254.2h0.8v0.5h-0.8zM87.0,245.6h0.5v0.9h-0.5zM76.5,250.7h0.8v1.0h-0.8zM69.7,252.8h0.8v0.9h-0.8zM68.4,251.1h0.7v0.5h-0.7zM58.9,249.7h0.4v0.9h-0.4zM56.1,241.4h0.4v1.0h-0.4zM64.5,243.0h0.3v0.3h-0.3zM79.1,249.9h0.8v0.8h-0.8zM52.8,249.3h0.6v0.9h-0.6zM84.4,253.5h0.3v0.9h-0.3zM88.4,254.2h0.4v0.4h-0.4zM54.7,241.5h0.9v0.9h-0.9zM76.6,252.6h0.7v0.5h-0.7zM54.2,242.4h0.8v0.4h-0.8zM63.4,246.9h0.3v0.5h-0.3zM61.9,251.0h0.6v0.5h-0.6zM90.5,248.1h0.9v0.7h-0.9zM51.3,246.8h0.6v0.8h-0.6zM64.6,250.9h0.7v0.5h-0.7zM86.2,242.3h0.9v0.4h-0.9zM50.1,243.8h0.8v1.0h-0.8zM50.2,247.9h0.6v0.9h-0.6zM57.7,247.9h0.5v0.9h-0.5zM60.9,254.2h0.5v0.5h-0.5zM79.4,248.0h0.4v0.7h-0.4zM53.4,252.0h0.8v0.9h-0.8zM76.4,246.0h0.6v0.6h-0.6zM87.4,242.2h0.9v0.3h-0.9zM58.7,244.7h0.9v0.7h-0.9zM65.9,253.4h0.5v0.6h-0.5zM72.3,251.6h0.8v0.8h-0.8zM64.6,245.6h0.4v0.9h-0.4zM77.8,251.4h0.4v0.6h-0.4zM82.5,249.1h0.4v0.6h-0.4zM87.2,244.3h0.4v0.5h-0.4zM79.5,252.8h0.4v0.4h-0.4zM60.4,245.6h0.7v0.4h-0.7zM63.8,243.6h1.0v0.8h-1.0zM54.3,254.5h0.4v0.6h-0.4zM91.3,252.1h0.8v0.6h-0.8zM55.9,277.3h0.4v0.4h-0.4zM61.7,262.8h0.5v0.7h-0.5zM70.8,274.0h0.6v0.5h-0.6zM54.3,276.5h0.5v0.7h-0.5zM77.2,272.3h0.6v0.7h-0.6zM62.6,267.5h0.7v0.7h-0.7zM73.2,278.8h0.7v0.6h-0.7zM69.2,272.9h0.5v0.6h-0.5zM52.9,272.1h0.7v0.7h-0.7zM68.9,268.0h0.5v0.5h-0.5zM68.6,271.8h0.6v0.8h-0.6zM55.5,277.7h0.7v0.5h-0.7zM64.7,285.4h0.3v0.6h-0.3zM54.8,280.8h0.8v0.6h-0.8zM53.0,275.8h0.6v0.7h-0.6zM65.4,277.3h0.7v0.6h-0.7zM62.3,284.8h0.4v0.6h-0.4zM61.8,280.3h0.4v0.8h-0.4zM60.7,263.4h0.4v0.5h-0.4zM50.4,272.0h0.5v0.6h-0.5zM60.6,268.4h0.4v0.7h-0.4zM78.2,274.6h0.4v0.7h-0.4zM61.8,267.1h0.4v0.7h-0.4zM74.3,277.2h0.5v0.6h-0.5zM56.8,285.1h0.5v0.6h-0.5zM70.1,227.2h0.5v0.4h-0.5zM62.8,216.9h0.7v0.5h-0.7zM71.0,219.0h0.5v0.4h-0.5zM59.5,217.8h0.3v0.7h-0.3zM55.6,218.7h0.5v0.5h-0.5zM59.6,224.6h0.6v0.5h-0.6zM73.1,227.8h0.3v0.7h-0.3zM72.5,226.8h0.4v0.7h-0.4zM65.1,215.2h0.3v0.8h-0.3zM65.7,218.8h0.4v0.4h-0.4zM54.3,226.6h0.5v0.4h-0.5zM72.4,226.9h0.4v0.7h-0.4zM64.4,226.7h0.6v0.7h-0.6zM69.3,227.6h0.4v0.6h-0.4zM62.3,226.1h0.5v0.7h-0.5zM63.0,219.0h0.4v0.4h-0.4zM61.3,215.9h0.5v0.4h-0.5zM61.3,222.5h0.6v0.7h-0.6zM48.2,227.6h0.5v0.6h-0.5zM66.0,227.6h0.5v0.5h-0.5zM73.9,216.1h0.6v0.6h-0.6zM48.8,224.1h0.6v0.8h-0.6zM56.9,229.7h0.6v0.5h-0.6zM72.2,215.5h0.7v0.6h-0.7zM57.1,227.9h0.5v0.5h-0.5zM52.2,75.3h0.4v0.6h-0.4zM51.1,69.9h0.9v0.5h-0.9zM55.2,66.1h0.7v0.5h-0.7zM52.0,80.4h0.8v0.9h-0.8zM50.2,63.9h0.5v0.7h-0.5zM53.3,75.6h0.3v0.8h-0.3zM55.8,69.6h0.3v0.5h-0.3zM46.9,60.7h0.9v0.7h-0.9zM53.5,75.7h0.9v0.7h-0.9zM53.1,71.7h0.8v0.7h-0.8zM53.7,61.3h0.8v0.6h-0.8zM54.6,58.5h0.4v0.3h-0.4zM54.7,78.9h0.8v0.6h-0.8zM55.2,75.7h0.7v0.5h-0.7zM49.9,66.5h0.5v0.6h-0.5zM53.3,79.3h0.3v0.7h-0.3zM47.2,59.0h0.9v0.7h-0.9zM56.2,67.2h0.3v0.6h-0.3zM52.8,79.4h1.0v0.6h-1.0zM51.0,58.6h0.8v0.4h-0.8zM48.3,56.4h0.3v0.8h-0.3zM48.0,80.2h0.4v0.9h-0.4zM48.1,56.4h0.8v0.5h-0.8zM54.3,60.7h0.3v0.8h-0.3zM54.1,77.4h0.8v0.4h-0.8zM53.2,73.7h0.6v1.0h-0.6zM49.4,80.1h0.8v0.3h-0.8zM47.0,72.3h0.9v0.4h-0.9zM50.0,74.2h0.4v0.9h-0.4zM51.8,57.5h0.6v0.7h-0.6zM57.1,111.0h0.4v0.7h-0.4zM55.4,110.1h0.6v0.5h-0.6zM55.9,114.0h0.8v0.7h-0.8zM60.0,100.2h0.3v0.8h-0.3zM63.2,115.2h0.5v0.6h-0.5zM69.5,115.3h0.6v0.5h-0.6zM56.9,116.9h0.5v0.6h-0.5zM60.8,117.1h0.7v0.4h-0.7zM47.0,99.4h0.5v0.6h-0.5zM65.8,116.8h0.3v0.7h-0.3zM65.7,116.3h0.6v0.4h-0.6zM66.6,114.6h0.6v0.8h-0.6zM55.0,94.4h0.6v0.7h-0.6zM51.6,113.0h0.8v0.4h-0.8zM115.8,315.7h0.5v0.4h-0.5zM106.6,317.8h0.7v0.5h-0.7zM102.3,319.4h0.7v0.4h-0.7zM115.1,322.0h0.7v0.6h-0.7zM112.4,313.1h0.4v0.4h-0.4zM104.7,316.3h0.5v0.6h-0.5zM110.5,311.0h0.4v0.3h-0.4zM125.9,306.8h0.4v0.6h-0.4zM120.5,300.5h0.6v0.5h-0.6zM113.5,296.6h0.3v0.8h-0.3zM122.5,310.1h0.6v0.4h-0.6zM120.3,308.4h0.8v0.7h-0.8zM121.3,323.9h0.4v0.3h-0.4zM105.2,301.2h0.3v0.3h-0.3zM54.2,356.8h0.5v0.8h-0.5zM58.8,336.6h0.6v0.5h-0.6zM48.6,359.0h0.4v0.6h-0.4zM55.3,358.9h0.6v0.5h-0.6zM52.8,339.0h0.8v0.8h-0.8zM49.9,336.0h0.4v0.5h-0.4zM58.7,357.6h0.7v0.3h-0.7zM57.2,352.7h0.6v0.8h-0.6zM47.7,338.6h0.7v0.8h-0.7zM55.8,342.5h0.6v0.7h-0.6zM48.4,343.1h0.4v0.4h-0.4zM53.3,339.2h0.4v0.4h-0.4z" fill="#fff" fill-opacity="0.78"/></svg>
<svg width="1146" height="716" viewBox="0 0 1146 716"><g stroke-linejoin="round">
<path d="M1018.4,524.3 L1016.9,527.0 L1014.7,533.7 L1019.2,532.2 L1022.1,528.5 L1025.8,527.0 L1031.0,524.8 L1033.3,530.0 L1034.0,535.9 L1037.7,539.6 L1035.5,543.3 L1037.7,549.2 L1040.7,555.2 L1041.4,560.4 L1037.0,563.3 L1034.0,566.3 L1037.0,571.5 L1039.9,577.4 L1037.7,583.4 L1037.0,587.1 L1037.0,587.0 L1041.4,591.5 L1045.9,595.9 L1051.8,598.1 L1057.0,597.4 L1056.3,604.8 L1054.8,613.0 L1048.8,615.9 L1044.4,617.4 L1039.9,621.1 L1034.0,624.8 L1028.1,628.5 L1022.1,630.3 L1016.2,630.0 L1011.8,627.8 L1007.3,625.6 L1002.9,623.3 L998.4,621.9 L994.0,618.9 L988.0,621.9 L982.1,620.4 L978.4,618.6 L979.6,617.8 L983.8,612.2 L989.4,606.6 L992.2,601.0 L989.4,596.1 L985.2,593.3 L979.6,594.0 L973.3,591.9 L971.9,588.4 L969.8,582.8 L966.3,578.7 L961.5,576.6 L955.9,575.2 L952.4,577.3 L948.9,581.5 L947.5,577.3 L944.7,575.2 L940.5,577.3 L937.0,581.5 L932.1,582.2 L928.6,580.1 L929.3,573.1 L930.0,567.5 L932.8,561.9 L937.7,557.7 L940.5,553.5 L939.8,547.9 L938.4,543.7 L941.2,539.6 L941.9,534.0 L937.7,528.4 L935.6,523.5 L938.2,521.1 L941.9,519.6 L942.6,515.1 L945.0,512.9 L950.9,511.4 L955.4,512.9 L959.8,512.9 L964.3,515.1 L968.7,519.6 L971.7,522.5 L971.0,525.5 L972.4,530.0 L976.2,532.2 L980.6,530.7 L985.1,527.7 L989.5,527.0 L992.5,524.0 L995.4,520.3 L999.9,520.3 L1004.3,522.5 L1008.8,524.0 L1013.2,524.8 L1018.4,524.3Z" fill="#da9c21" stroke="#da9c21" stroke-width="0.6"/>
<path d="M978.4,618.4 L974.7,617.4 L968.7,620.4 L962.8,624.8 L957.6,628.5 L953.2,634.5 L950.9,640.4 L951.7,646.3 L952.4,652.3 L949.5,653.0 L945.0,654.9 L945.0,655.2 L938.2,656.7 L932.2,654.5 L926.3,656.0 L920.4,651.5 L915.9,647.8 L910.0,645.6 L904.1,643.4 L898.1,640.4 L893.7,641.1 L892.2,644.9 L884.8,644.1 L878.8,643.4 L872.9,641.1 L865.5,637.4 L861.0,634.5 L855.1,632.2 L849.2,630.0 L845.5,631.5 L846.2,626.3 L844.0,621.1 L846.2,615.2 L848.4,606.3 L850.7,595.9 L852.1,587.0 L852.1,587.1 L852.9,577.4 L853.6,570.0 L854.4,564.1 L855.1,558.1 L855.8,552.2 L858.1,555.2 L861.0,561.1 L864.0,567.0 L867.7,573.0 L869.2,570.0 L867.7,567.8 L866.2,562.6 L864.0,556.7 L861.0,550.7 L856.6,546.3 L855.8,543.3 L857.3,537.4 L858.1,532.9 L857.3,528.5 L864.0,527.0 L869.2,525.5 L869.9,519.6 L867.7,514.4 L865.5,509.2 L865.5,505.5 L871.4,504.0 L877.4,502.5 L884.8,504.7 L889.2,504.7 L892.2,507.7 L896.6,507.0 L899.6,510.7 L902.6,515.9 L905.5,519.6 L909.3,523.3 L914.4,527.0 L921.9,524.0 L929.3,522.5 L934.5,524.0 L937.7,528.4 L941.9,534.0 L941.2,539.6 L938.4,543.7 L939.8,547.9 L940.5,553.5 L937.7,557.7 L932.8,561.9 L930.0,567.5 L929.3,573.1 L928.6,580.1 L932.1,582.2 L937.0,581.5 L940.5,577.3 L944.7,575.2 L947.5,577.3 L948.9,581.5 L952.4,577.3 L955.9,575.2 L961.5,576.6 L966.3,578.7 L969.8,582.8 L971.9,588.4 L973.3,591.9 L979.6,594.0 L985.2,593.3 L989.4,596.1 L992.2,601.0 L989.4,606.6 L983.8,612.2 L979.6,617.8 L977.5,620.0Z" fill="#944484" stroke="#944484" stroke-width="0.6"/>
<path d="M917.4,409.4 L918.9,404.7 L921.1,397.3 L921.1,389.8 L923.3,383.2 L929.3,379.7 L935.2,378.3 L939.7,377.2 L941.9,380.2 L945.0,385.4 L945.0,386.1 L950.9,387.6 L953.2,391.3 L956.9,394.3 L961.3,397.3 L964.3,401.0 L971.0,401.7 L973.9,406.9 L974.7,413.6 L980.6,412.1 L985.1,409.9 L986.5,406.9 L987.3,411.3 L989.5,415.8 L994.0,419.5 L996.9,422.5 L1001.4,426.2 L1005.8,426.9 L1011.8,427.7 L1017.7,426.9 L1022.1,429.1 L1025.1,433.6 L1029.6,435.8 L1034.0,437.3 L1039.9,438.0 L1042.9,436.6 L1048.8,438.8 L1057.7,441.8 L1055.5,447.7 L1052.6,453.6 L1051.1,459.6 L1049.6,465.5 L1048.8,471.4 L1047.4,478.8 L1047.4,481.0 L1048.1,485.5 L1044.4,489.9 L1039.9,488.4 L1037.7,491.4 L1034.0,497.3 L1029.6,503.3 L1025.8,508.4 L1023.6,513.6 L1020.7,518.1 L1017.7,521.8 L1018.4,524.0 L1013.2,524.8 L1008.8,524.0 L1004.3,522.5 L999.9,520.3 L995.4,520.3 L992.5,524.0 L989.5,527.0 L985.1,527.7 L980.6,530.7 L976.2,532.2 L972.4,530.0 L971.0,525.5 L971.7,522.5 L968.7,519.6 L964.3,515.1 L959.8,512.9 L955.4,512.9 L950.9,511.4 L951.7,507.7 L952.4,501.8 L950.2,495.8 L948.7,488.4 L948.3,481.0 L951.7,478.8 L952.4,473.7 L949.5,469.9 L945.0,469.2 L939.7,467.0 L932.2,464.0 L924.8,460.3 L921.9,455.1 L919.6,449.2 L917.4,444.7 L918.2,438.8 L921.9,434.3 L923.3,429.9 L922.6,419.5 L921.1,412.1 L917.4,409.4Z" fill="#038e7c" stroke="#038e7c" stroke-width="0.6"/>
<path d="M855.1,526.2 L849.2,523.3 L843.2,518.1 L840.3,512.2 L836.6,507.7 L837.3,503.3 L836.6,498.8 L840.3,498.5 L844.7,498.1 L840.3,495.8 L834.3,495.1 L830.6,492.1 L831.4,488.4 L825.4,484.7 L818.0,482.5 L812.1,481.1 L807.6,479.6 L801.7,477.4 L797.3,474.4 L792.8,472.9 L795.8,471.4 L791.3,468.5 L785.4,467.0 L789.8,465.5 L795.0,464.0 L793.5,461.0 L787.6,460.3 L790.6,458.1 L794.3,455.8 L789.8,454.4 L787.6,451.4 L791.3,449.2 L795.8,448.4 L800.2,447.7 L806.9,448.4 L810.6,447.7 L813.6,444.7 L818.0,445.5 L822.5,448.4 L825.4,452.1 L829.9,455.1 L834.3,453.6 L840.3,452.1 L843.2,454.4 L847.7,452.9 L852.9,452.1 L855.1,447.7 L855.8,443.2 L854.4,438.8 L852.1,434.3 L850.7,429.9 L849.2,425.4 L848.4,421.0 L847.4,418.3 L852.1,419.5 L857.3,422.5 L860.3,426.2 L864.0,425.4 L867.0,426.9 L872.9,432.1 L878.8,432.9 L884.8,431.4 L889.2,429.1 L893.7,426.9 L890.7,426.2 L892.9,423.2 L896.6,419.5 L898.1,418.0 L902.6,415.8 L907.0,414.3 L913.0,412.1 L917.4,409.4 L921.1,412.1 L922.6,419.5 L923.3,429.9 L921.9,434.3 L918.2,438.8 L917.4,444.7 L919.6,449.2 L921.9,455.1 L924.8,460.3 L932.2,464.0 L939.7,467.0 L945.0,469.2 L949.5,469.9 L952.4,473.7 L951.7,478.8 L948.3,481.0 L948.7,488.4 L950.2,495.8 L952.4,501.8 L951.7,507.7 L950.9,511.4 L945.0,512.9 L942.6,515.1 L941.9,519.6 L938.2,521.1 L935.2,524.0 L929.3,522.5 L921.9,524.0 L914.4,527.0 L909.3,523.3 L905.5,519.6 L902.6,515.9 L899.6,510.7 L896.6,507.0 L892.2,507.7 L889.2,504.7 L884.8,504.7 L877.4,502.5 L871.4,504.0 L865.5,505.5 L865.5,509.2 L867.7,514.4 L869.9,519.6 L869.2,525.5 L864.0,527.0 L857.3,527.7Z" fill="#2a58a5" stroke="#2a58a5" stroke-width="0.6"/>
<path d="M1100.0,631.5 L1100.8,637.4 L1102.2,641.9 L1104.5,646.3 L1104.5,653.8 L1103.7,661.2 L1104.5,667.1 L1103.7,673.0 L1100.8,678.2 L1098.5,681.2 L1096.3,677.5 L1092.6,676.0 L1090.4,673.0 L1088.9,668.6 L1085.9,664.1 L1087.4,661.2 L1084.4,658.2 L1085.2,653.8 L1083.7,650.8 L1085.9,646.3 L1089.6,644.1 L1094.8,641.9 L1098.5,640.4 L1099.3,636.0Z" fill="#da9c21" stroke="#da9c21" stroke-width="0.6"/>
<path d="M917.4,409.4 L921.1,412.1 L922.6,419.5 L923.3,429.9 L921.9,434.3 L918.2,438.8 L917.4,444.7 L919.6,449.2 L921.9,455.1 L924.8,460.3 L932.2,464.0 L939.7,467.0 L945.0,469.2 L949.5,469.9 L952.4,473.7 L951.7,478.8 L948.3,481.0 L948.7,488.4 L950.2,495.8 L952.4,501.8 L951.7,507.7 L950.9,511.4" fill="none" stroke="#eefaff" stroke-opacity="0.95" stroke-width="0.95"/>
<path d="M950.9,511.4 L945.0,512.9 L942.6,515.1 L941.9,519.6 L938.2,521.1 L935.2,524.0" fill="none" stroke="#eefaff" stroke-opacity="0.95" stroke-width="0.95"/>
<path d="M934.5,524.0 L929.3,522.5 L921.9,524.0 L914.4,527.0 L909.3,523.3 L905.5,519.6 L902.6,515.9 L899.6,510.7 L896.6,507.0 L892.2,507.7 L889.2,504.7 L884.8,504.7 L877.4,502.5 L871.4,504.0 L865.5,505.5 L865.5,509.2 L867.7,514.4 L869.9,519.6 L869.2,525.5 L864.0,527.0 L857.3,527.7" fill="none" stroke="#eefaff" stroke-opacity="0.95" stroke-width="0.95"/>
<path d="M1018.4,524.3 L1013.2,524.8 L1008.8,524.0 L1004.3,522.5 L999.9,520.3 L995.4,520.3 L992.5,524.0 L989.5,527.0 L985.1,527.7 L980.6,530.7 L976.2,532.2 L972.4,530.0 L971.0,525.5 L971.7,522.5 L968.7,519.6 L964.3,515.1 L959.8,512.9 L955.4,512.9 L950.9,511.4" fill="none" stroke="#eefaff" stroke-opacity="0.95" stroke-width="0.95"/>
<path d="M977.5,620.0 L979.6,617.8 L983.8,612.2 L989.4,606.6 L992.2,601.0 L989.4,596.1 L985.2,593.3 L979.6,594.0 L973.3,591.9 L971.9,588.4 L969.8,582.8 L966.3,578.7 L961.5,576.6 L955.9,575.2 L952.4,577.3 L948.9,581.5 L947.5,577.3 L944.7,575.2 L940.5,577.3 L937.0,581.5 L932.1,582.2 L928.6,580.1 L929.3,573.1 L930.0,567.5 L932.8,561.9 L937.7,557.7 L940.5,553.5 L939.8,547.9 L938.4,543.7 L941.2,539.6 L941.9,534.0 L937.7,528.4 L935.6,523.5" fill="none" stroke="#eefaff" stroke-opacity="0.95" stroke-width="0.95"/>
<path d="M851.4,452.9 L853.6,457.3 L858.1,458.1 L861.0,455.8 L860.3,462.5 L861.0,468.5 L858.1,474.4 L852.1,480.3 L849.2,481.0 L840.3,484.0 L838.0,488.4" fill="none" stroke="#f2fbff" stroke-opacity="0.9" stroke-width="0.8"/>
<path d="M861.0,455.8 L867.0,458.1 L872.9,459.6 L878.8,455.8 L881.8,459.6 L884.8,462.5 L890.7,459.6 L893.7,461.0 L898.1,465.5 L901.1,467.7 L901.8,462.5 L904.1,455.1 L905.5,451.4 L913.0,448.4 L917.4,445.5" fill="none" stroke="#f2fbff" stroke-opacity="0.9" stroke-width="0.8"/>
<path d="M901.1,467.7 L902.6,472.9 L901.8,481.1 L898.9,481.0 L893.7,485.5 L888.5,488.4 L885.5,494.4 L884.0,498.8 L882.8,501.8" fill="none" stroke="#f2fbff" stroke-opacity="0.9" stroke-width="0.8"/>
<path d="M923.3,433.6 L929.3,435.8 L934.5,434.3 L939.7,436.6 L945.0,438.0 L952.4,437.3 L954.6,441.0 L959.8,445.5" fill="none" stroke="#f2fbff" stroke-opacity="0.9" stroke-width="0.8"/>
<path d="M974.7,413.6 L972.4,421.0 L967.3,426.9 L962.8,430.6 L964.3,435.1 L961.3,440.3 L959.8,445.5 L960.6,452.1 L958.4,458.1 L956.1,460.7 L950.9,464.0 L946.5,467.7" fill="none" stroke="#f2fbff" stroke-opacity="0.9" stroke-width="0.8"/>
<path d="M956.1,460.7 L961.3,462.5 L965.8,469.9 L970.2,474.4 L976.2,475.9 L983.6,471.4 L988.0,471.4 L992.5,477.4 L994.0,481.1 L994.7,481.0 L998.4,484.0 L1002.9,482.5 L1005.8,481.0 L1005.8,481.1 L1008.8,473.7 L1013.2,471.4 L1017.7,471.4 L1022.1,473.7 L1031.0,475.9 L1037.0,477.4" fill="none" stroke="#f2fbff" stroke-opacity="0.9" stroke-width="0.8"/>
<path d="M928.6,580.1 L925.1,575.9 L920.9,572.4 L916.8,571.7 L914.0,575.2 L911.9,580.1 L908.4,584.2 L905.6,588.4 L901.8,594.4 L898.1,600.4 L892.2,601.8 L886.3,602.6 L881.8,606.3 L877.4,604.8 L874.4,607.8 L875.1,612.2 L873.7,615.2 L878.8,615.9 L878.1,624.1 L875.9,630.0 L872.9,633.7 L869.9,637.4" fill="none" stroke="#f2fbff" stroke-opacity="0.9" stroke-width="0.8"/>
<path d="M1034.0,566.3 L1028.1,566.3 L1022.1,565.6 L1025.1,570.0 L1021.4,573.0 L1014.7,577.4 L1010.3,581.9 L1008.0,587.1 L1010.3,591.5 L1011.8,595.9 L1007.3,598.1 L1002.9,595.9 L996.9,594.4 L991.0,593.7 L988.8,595.9" fill="none" stroke="#f2fbff" stroke-opacity="0.9" stroke-width="0.8"/>
<ellipse cx="998.6" cy="620.6" rx="2.4" ry="1.2" fill="#fff" fill-opacity="0.9" transform="rotate(-20 998.6 620.6)"/>
<clipPath id="land"><path d="M1018.4,524.3 L1016.9,527.0 L1014.7,533.7 L1019.2,532.2 L1022.1,528.5 L1025.8,527.0 L1031.0,524.8 L1033.3,530.0 L1034.0,535.9 L1037.7,539.6 L1035.5,543.3 L1037.7,549.2 L1040.7,555.2 L1041.4,560.4 L1037.0,563.3 L1034.0,566.3 L1037.0,571.5 L1039.9,577.4 L1037.7,583.4 L1037.0,587.1 L1037.0,587.0 L1041.4,591.5 L1045.9,595.9 L1051.8,598.1 L1057.0,597.4 L1056.3,604.8 L1054.8,613.0 L1048.8,615.9 L1044.4,617.4 L1039.9,621.1 L1034.0,624.8 L1028.1,628.5 L1022.1,630.3 L1016.2,630.0 L1011.8,627.8 L1007.3,625.6 L1002.9,623.3 L998.4,621.9 L994.0,618.9 L988.0,621.9 L982.1,620.4 L978.4,618.6 L979.6,617.8 L983.8,612.2 L989.4,606.6 L992.2,601.0 L989.4,596.1 L985.2,593.3 L979.6,594.0 L973.3,591.9 L971.9,588.4 L969.8,582.8 L966.3,578.7 L961.5,576.6 L955.9,575.2 L952.4,577.3 L948.9,581.5 L947.5,577.3 L944.7,575.2 L940.5,577.3 L937.0,581.5 L932.1,582.2 L928.6,580.1 L929.3,573.1 L930.0,567.5 L932.8,561.9 L937.7,557.7 L940.5,553.5 L939.8,547.9 L938.4,543.7 L941.2,539.6 L941.9,534.0 L937.7,528.4 L935.6,523.5 L938.2,521.1 L941.9,519.6 L942.6,515.1 L945.0,512.9 L950.9,511.4 L955.4,512.9 L959.8,512.9 L964.3,515.1 L968.7,519.6 L971.7,522.5 L971.0,525.5 L972.4,530.0 L976.2,532.2 L980.6,530.7 L985.1,527.7 L989.5,527.0 L992.5,524.0 L995.4,520.3 L999.9,520.3 L1004.3,522.5 L1008.8,524.0 L1013.2,524.8 L1018.4,524.3Z"/><path d="M978.4,618.4 L974.7,617.4 L968.7,620.4 L962.8,624.8 L957.6,628.5 L953.2,634.5 L950.9,640.4 L951.7,646.3 L952.4,652.3 L949.5,653.0 L945.0,654.9 L945.0,655.2 L938.2,656.7 L932.2,654.5 L926.3,656.0 L920.4,651.5 L915.9,647.8 L910.0,645.6 L904.1,643.4 L898.1,640.4 L893.7,641.1 L892.2,644.9 L884.8,644.1 L878.8,643.4 L872.9,641.1 L865.5,637.4 L861.0,634.5 L855.1,632.2 L849.2,630.0 L845.5,631.5 L846.2,626.3 L844.0,621.1 L846.2,615.2 L848.4,606.3 L850.7,595.9 L852.1,587.0 L852.1,587.1 L852.9,577.4 L853.6,570.0 L854.4,564.1 L855.1,558.1 L855.8,552.2 L858.1,555.2 L861.0,561.1 L864.0,567.0 L867.7,573.0 L869.2,570.0 L867.7,567.8 L866.2,562.6 L864.0,556.7 L861.0,550.7 L856.6,546.3 L855.8,543.3 L857.3,537.4 L858.1,532.9 L857.3,528.5 L864.0,527.0 L869.2,525.5 L869.9,519.6 L867.7,514.4 L865.5,509.2 L865.5,505.5 L871.4,504.0 L877.4,502.5 L884.8,504.7 L889.2,504.7 L892.2,507.7 L896.6,507.0 L899.6,510.7 L902.6,515.9 L905.5,519.6 L909.3,523.3 L914.4,527.0 L921.9,524.0 L929.3,522.5 L934.5,524.0 L937.7,528.4 L941.9,534.0 L941.2,539.6 L938.4,543.7 L939.8,547.9 L940.5,553.5 L937.7,557.7 L932.8,561.9 L930.0,567.5 L929.3,573.1 L928.6,580.1 L932.1,582.2 L937.0,581.5 L940.5,577.3 L944.7,575.2 L947.5,577.3 L948.9,581.5 L952.4,577.3 L955.9,575.2 L961.5,576.6 L966.3,578.7 L969.8,582.8 L971.9,588.4 L973.3,591.9 L979.6,594.0 L985.2,593.3 L989.4,596.1 L992.2,601.0 L989.4,606.6 L983.8,612.2 L979.6,617.8 L977.5,620.0Z"/><path d="M917.4,409.4 L918.9,404.7 L921.1,397.3 L921.1,389.8 L923.3,383.2 L929.3,379.7 L935.2,378.3 L939.7,377.2 L941.9,380.2 L945.0,385.4 L945.0,386.1 L950.9,387.6 L953.2,391.3 L956.9,394.3 L961.3,397.3 L964.3,401.0 L971.0,401.7 L973.9,406.9 L974.7,413.6 L980.6,412.1 L985.1,409.9 L986.5,406.9 L987.3,411.3 L989.5,415.8 L994.0,419.5 L996.9,422.5 L1001.4,426.2 L1005.8,426.9 L1011.8,427.7 L1017.7,426.9 L1022.1,429.1 L1025.1,433.6 L1029.6,435.8 L1034.0,437.3 L1039.9,438.0 L1042.9,436.6 L1048.8,438.8 L1057.7,441.8 L1055.5,447.7 L1052.6,453.6 L1051.1,459.6 L1049.6,465.5 L1048.8,471.4 L1047.4,478.8 L1047.4,481.0 L1048.1,485.5 L1044.4,489.9 L1039.9,488.4 L1037.7,491.4 L1034.0,497.3 L1029.6,503.3 L1025.8,508.4 L1023.6,513.6 L1020.7,518.1 L1017.7,521.8 L1018.4,524.0 L1013.2,524.8 L1008.8,524.0 L1004.3,522.5 L999.9,520.3 L995.4,520.3 L992.5,524.0 L989.5,527.0 L985.1,527.7 L980.6,530.7 L976.2,532.2 L972.4,530.0 L971.0,525.5 L971.7,522.5 L968.7,519.6 L964.3,515.1 L959.8,512.9 L955.4,512.9 L950.9,511.4 L951.7,507.7 L952.4,501.8 L950.2,495.8 L948.7,488.4 L948.3,481.0 L951.7,478.8 L952.4,473.7 L949.5,469.9 L945.0,469.2 L939.7,467.0 L932.2,464.0 L924.8,460.3 L921.9,455.1 L919.6,449.2 L917.4,444.7 L918.2,438.8 L921.9,434.3 L923.3,429.9 L922.6,419.5 L921.1,412.1 L917.4,409.4Z"/><path d="M855.1,526.2 L849.2,523.3 L843.2,518.1 L840.3,512.2 L836.6,507.7 L837.3,503.3 L836.6,498.8 L840.3,498.5 L844.7,498.1 L840.3,495.8 L834.3,495.1 L830.6,492.1 L831.4,488.4 L825.4,484.7 L818.0,482.5 L812.1,481.1 L807.6,479.6 L801.7,477.4 L797.3,474.4 L792.8,472.9 L795.8,471.4 L791.3,468.5 L785.4,467.0 L789.8,465.5 L795.0,464.0 L793.5,461.0 L787.6,460.3 L790.6,458.1 L794.3,455.8 L789.8,454.4 L787.6,451.4 L791.3,449.2 L795.8,448.4 L800.2,447.7 L806.9,448.4 L810.6,447.7 L813.6,444.7 L818.0,445.5 L822.5,448.4 L825.4,452.1 L829.9,455.1 L834.3,453.6 L840.3,452.1 L843.2,454.4 L847.7,452.9 L852.9,452.1 L855.1,447.7 L855.8,443.2 L854.4,438.8 L852.1,434.3 L850.7,429.9 L849.2,425.4 L848.4,421.0 L847.4,418.3 L852.1,419.5 L857.3,422.5 L860.3,426.2 L864.0,425.4 L867.0,426.9 L872.9,432.1 L878.8,432.9 L884.8,431.4 L889.2,429.1 L893.7,426.9 L890.7,426.2 L892.9,423.2 L896.6,419.5 L898.1,418.0 L902.6,415.8 L907.0,414.3 L913.0,412.1 L917.4,409.4 L921.1,412.1 L922.6,419.5 L923.3,429.9 L921.9,434.3 L918.2,438.8 L917.4,444.7 L919.6,449.2 L921.9,455.1 L924.8,460.3 L932.2,464.0 L939.7,467.0 L945.0,469.2 L949.5,469.9 L952.4,473.7 L951.7,478.8 L948.3,481.0 L948.7,488.4 L950.2,495.8 L952.4,501.8 L951.7,507.7 L950.9,511.4 L945.0,512.9 L942.6,515.1 L941.9,519.6 L938.2,521.1 L935.2,524.0 L929.3,522.5 L921.9,524.0 L914.4,527.0 L909.3,523.3 L905.5,519.6 L902.6,515.9 L899.6,510.7 L896.6,507.0 L892.2,507.7 L889.2,504.7 L884.8,504.7 L877.4,502.5 L871.4,504.0 L865.5,505.5 L865.5,509.2 L867.7,514.4 L869.9,519.6 L869.2,525.5 L864.0,527.0 L857.3,527.7Z"/><path d="M1100.0,631.5 L1100.8,637.4 L1102.2,641.9 L1104.5,646.3 L1104.5,653.8 L1103.7,661.2 L1104.5,667.1 L1103.7,673.0 L1100.8,678.2 L1098.5,681.2 L1096.3,677.5 L1092.6,676.0 L1090.4,673.0 L1088.9,668.6 L1085.9,664.1 L1087.4,661.2 L1084.4,658.2 L1085.2,653.8 L1083.7,650.8 L1085.9,646.3 L1089.6,644.1 L1094.8,641.9 L1098.5,640.4 L1099.3,636.0Z"/></clipPath>
<path clip-path="url(#land)" d="M928.4,551.8h1.2v0.8h-1.2zM946.6,560.4h0.6v0.9h-0.6zM986.6,625.0h0.5v0.7h-0.5zM809.7,630.2h1.0v0.4h-1.0zM1102.2,678.9h1.0v1.0h-1.0zM831.7,380.7h0.9v0.5h-0.9zM842.4,452.0h0.4v0.8h-0.4zM924.5,640.5h0.9v1.0h-0.9zM943.9,584.0h0.8v0.7h-0.8zM1107.2,688.6h1.2v1.0h-1.2zM883.4,448.1h0.7v0.5h-0.7zM1031.3,501.7h1.2v0.7h-1.2zM1094.2,642.1h0.4v0.6h-0.4zM1078.6,523.6h1.3v0.8h-1.3zM804.0,573.6h1.1v0.6h-1.1zM808.6,480.4h1.3v1.1h-1.3zM818.7,453.4h0.5v0.5h-0.5zM1041.4,431.8h0.9v0.8h-0.9zM842.5,605.8h0.5v1.0h-0.5zM818.2,508.1h0.6v0.6h-0.6zM1098.5,628.3h0.7v1.2h-0.7zM849.1,499.8h1.2v1.0h-1.2zM812.9,686.6h0.6v0.6h-0.6zM1033.4,479.3h0.7v0.5h-0.7zM809.6,559.0h0.6v0.9h-0.6zM901.9,518.3h1.3v0.8h-1.3zM968.5,648.1h0.6v0.5h-0.6zM1078.0,632.8h0.6v0.6h-0.6zM1022.5,671.3h0.6v1.3h-0.6zM1069.4,565.5h0.8v0.5h-0.8zM792.7,678.3h0.6v1.0h-0.6zM864.3,634.6h0.9v0.7h-0.9zM837.5,602.2h0.5v0.6h-0.5zM963.5,643.7h1.0v0.7h-1.0zM1080.9,440.0h0.4v0.6h-0.4zM926.2,395.0h0.6v0.7h-0.6zM967.7,417.3h0.7v1.2h-0.7zM1101.6,582.3h1.0v0.9h-1.0zM826.0,387.0h0.4v1.2h-0.4zM1009.9,678.3h0.4v1.0h-0.4zM938.2,605.4h0.7v1.3h-0.7zM804.7,547.5h1.1v1.2h-1.1zM1021.8,597.0h1.1v1.2h-1.1zM895.4,591.1h1.2v1.2h-1.2zM916.8,624.2h1.2v0.9h-1.2zM985.0,496.1h0.9v0.9h-0.9zM806.3,576.8h1.3v1.2h-1.3zM1018.9,498.0h1.1v0.9h-1.1zM924.5,639.2h0.5v1.1h-0.5zM789.8,564.8h0.8v0.6h-0.8zM1009.1,532.1h1.0v1.2h-1.0zM863.9,379.6h0.7v1.0h-0.7zM846.4,429.3h1.2v1.0h-1.2zM925.0,656.0h0.7v1.0h-0.7zM845.1,511.3h1.1v1.2h-1.1zM1068.7,496.7h0.9v0.7h-0.9zM824.7,531.9h1.2v1.2h-1.2zM1013.3,674.3h0.6v0.6h-0.6zM927.8,462.4h0.6v0.8h-0.6zM985.2,531.1h0.7v1.2h-0.7zM1102.1,518.1h0.5v0.4h-0.5zM1066.3,389.0h1.0v0.9h-1.0zM881.4,624.5h0.4v0.5h-0.4zM929.2,383.8h1.1v0.6h-1.1zM826.2,390.7h1.0v0.8h-1.0zM986.6,581.7h1.1v1.3h-1.1zM1004.5,438.6h0.8v0.6h-0.8zM783.5,524.3h1.0v0.6h-1.0zM869.3,484.6h1.0v0.9h-1.0zM981.5,613.4h0.8v1.1h-0.8zM1077.2,403.4h1.2v1.1h-1.2zM822.6,518.4h1.0v1.2h-1.0zM903.6,554.6h1.2v1.1h-1.2zM1089.7,521.6h1.0v0.6h-1.0zM1016.8,633.0h1.0v1.0h-1.0zM850.0,658.6h1.3v1.3h-1.3zM956.1,624.3h0.7v1.2h-0.7zM1060.7,485.4h0.5v0.8h-0.5zM960.5,617.2h0.8v0.4h-0.8zM1045.4,396.1h1.1v0.6h-1.1zM889.9,623.4h0.5v0.5h-0.5zM949.4,603.2h1.2v1.0h-1.2zM1090.2,530.7h1.3v0.5h-1.3zM852.6,541.4h0.7v1.1h-0.7zM989.5,540.2h1.2v0.9h-1.2zM882.2,495.7h1.2v1.2h-1.2zM848.3,643.1h1.3v0.9h-1.3zM967.9,439.1h0.9v0.9h-0.9zM978.5,384.7h1.3v0.9h-1.3zM911.4,627.5h0.9v0.8h-0.9zM1006.6,396.7h0.9v0.8h-0.9zM1093.9,666.0h0.6v0.8h-0.6zM821.6,512.2h1.1v1.2h-1.1zM936.3,475.6h0.6v1.0h-0.6zM1083.5,416.7h1.1v0.4h-1.1zM843.7,447.4h1.0v0.7h-1.0zM896.6,570.6h0.5v1.1h-0.5zM820.3,536.3h0.6v0.6h-0.6zM954.0,513.1h0.7v0.8h-0.7zM953.6,426.2h0.6v1.0h-0.6zM989.4,542.3h1.2v1.0h-1.2zM1061.0,449.1h1.1v1.1h-1.1zM1076.1,475.2h0.7v1.2h-0.7zM851.6,689.5h1.2v0.5h-1.2zM858.5,604.1h0.6v0.5h-0.6zM1053.0,508.4h1.1v0.5h-1.1zM912.1,591.2h0.4v0.6h-0.4zM1003.8,662.2h1.3v0.5h-1.3zM945.9,614.1h0.9v1.0h-0.9zM842.0,398.2h0.5v0.4h-0.5zM960.9,537.7h0.9v0.5h-0.9zM840.5,440.0h1.2v1.3h-1.2zM1084.0,405.9h0.5v1.3h-0.5zM931.6,616.1h0.7v0.8h-0.7zM949.0,511.0h0.9v0.4h-0.9zM1009.9,641.1h0.6v0.8h-0.6zM1022.5,503.3h0.6v0.5h-0.6zM948.1,380.8h1.2v1.1h-1.2zM1011.1,646.3h1.0v0.8h-1.0zM976.7,534.3h1.3v1.1h-1.3zM864.7,662.1h1.1v1.1h-1.1zM1047.2,503.4h1.2v1.2h-1.2zM1007.9,616.9h1.1v0.8h-1.1zM1017.0,398.2h0.7v0.8h-0.7zM783.5,487.7h1.0v1.0h-1.0zM856.1,672.6h1.0v0.7h-1.0zM996.4,554.8h0.9v0.8h-0.9zM1108.0,577.7h1.0v1.1h-1.0zM1101.5,383.2h1.0v1.1h-1.0zM864.2,502.1h0.4v0.6h-0.4zM903.2,406.9h0.6v1.2h-0.6zM960.4,535.5h1.3v0.9h-1.3zM1106.4,576.3h1.1v0.5h-1.1zM976.0,614.4h0.4v1.2h-0.4zM832.5,524.1h0.6v0.8h-0.6zM980.5,394.4h1.3v0.8h-1.3zM952.8,563.7h0.7v0.7h-0.7zM994.9,552.0h0.7v1.0h-0.7zM877.1,380.4h0.6v0.4h-0.6zM831.4,613.0h0.8v1.2h-0.8zM1025.5,391.7h1.3v1.3h-1.3zM804.1,660.3h0.8v0.8h-0.8zM1099.2,452.5h0.9v1.2h-0.9zM1017.1,523.1h1.3v1.1h-1.3zM978.0,412.1h1.0v0.8h-1.0zM846.8,392.3h0.9v0.5h-0.9zM925.3,585.7h0.8v0.6h-0.8zM971.0,507.7h1.1v0.9h-1.1zM1107.2,675.1h1.1v0.6h-1.1zM817.3,656.3h1.1v1.0h-1.1zM897.8,461.3h1.0v0.9h-1.0zM974.1,574.8h1.1v0.6h-1.1zM861.7,683.6h1.2v1.2h-1.2zM793.0,395.1h0.6v0.8h-0.6zM984.5,408.2h0.9v0.5h-0.9zM808.4,588.4h0.9v1.0h-0.9zM902.4,526.3h0.6v0.7h-0.6zM1024.3,639.3h0.5v0.5h-0.5zM1045.4,571.9h1.1v0.6h-1.1zM919.2,457.0h1.1v0.7h-1.1zM994.4,686.6h0.7v0.9h-0.7zM1024.7,665.1h0.8v0.7h-0.8zM811.8,650.8h0.5v0.5h-0.5zM965.1,528.2h1.0v0.7h-1.0zM1034.4,399.9h0.6v1.0h-0.6zM806.8,471.4h1.1v1.0h-1.1zM872.8,420.9h0.7v1.1h-0.7zM900.2,412.9h1.0v0.9h-1.0zM1081.3,671.1h1.2v0.8h-1.2zM1043.4,471.7h0.7v0.8h-0.7zM1086.6,656.9h0.6v0.7h-0.6zM899.9,490.1h0.8v0.7h-0.8zM843.9,553.0h1.1v0.9h-1.1zM1054.3,552.7h0.6v1.1h-0.6zM1068.9,464.4h0.4v0.9h-0.4zM958.5,554.2h1.3v1.0h-1.3zM1043.8,396.1h0.9v1.1h-0.9zM807.6,401.6h1.1v1.2h-1.1zM807.8,575.1h0.5v1.1h-0.5zM992.9,453.1h0.6v1.1h-0.6zM951.1,616.1h0.8v0.7h-0.8zM1097.6,587.1h0.8v0.9h-0.8zM1016.5,598.4h1.2v0.8h-1.2zM1051.0,585.4h1.2v1.1h-1.2zM1053.5,655.0h1.3v1.0h-1.3zM951.8,599.0h1.1v0.8h-1.1zM917.9,421.9h1.1v1.3h-1.1zM903.2,428.6h0.6v0.8h-0.6zM875.8,680.5h0.5v0.7h-0.5zM817.7,579.5h1.1v0.6h-1.1zM800.4,520.1h0.9v1.2h-0.9zM791.9,410.1h0.6v0.6h-0.6zM857.2,601.2h0.9v0.6h-0.9zM840.7,464.3h0.6v1.1h-0.6zM882.2,548.1h1.1v0.8h-1.1zM865.4,654.6h1.2v0.7h-1.2zM959.5,676.5h0.8v0.6h-0.8zM796.3,673.5h1.1v0.7h-1.1zM953.0,538.0h0.6v1.3h-0.6zM995.7,450.6h0.4v0.8h-0.4zM901.9,626.2h1.0v0.9h-1.0zM831.6,425.3h0.7v0.6h-0.7zM1065.1,538.1h1.0v1.3h-1.0zM867.4,543.9h0.5v1.1h-0.5zM780.4,633.9h1.2v1.1h-1.2zM807.0,460.8h1.0v0.5h-1.0zM937.5,523.2h1.3v0.9h-1.3zM1061.2,471.3h1.1v0.8h-1.1zM1080.7,404.6h1.1v0.6h-1.1zM958.2,541.1h0.5v1.1h-0.5zM882.1,473.6h0.5v0.7h-0.5zM933.3,600.6h0.7v1.0h-0.7zM814.7,499.8h0.8v1.3h-0.8zM1052.2,581.3h0.4v0.7h-0.4zM1012.9,450.6h0.9v0.8h-0.9zM783.4,687.4h1.1v0.6h-1.1zM982.1,467.2h0.7v0.9h-0.7zM877.8,481.9h0.8v1.0h-0.8zM864.1,438.8h1.1v0.7h-1.1zM1090.0,552.7h1.1v0.7h-1.1zM1051.2,405.0h0.5v0.5h-0.5zM1002.3,598.4h0.6v0.8h-0.6zM1054.5,562.1h0.5v0.6h-0.5zM831.5,415.0h0.8v0.5h-0.8zM1082.0,510.1h0.9v1.0h-0.9zM1031.5,633.8h0.7v0.7h-0.7zM915.2,380.8h0.8v1.0h-0.8zM1102.1,624.0h1.0v0.9h-1.0zM786.1,479.9h0.7v1.0h-0.7zM814.9,494.6h0.9v1.1h-0.9zM1050.7,568.0h0.5v1.1h-0.5zM1076.2,548.2h0.7v0.9h-0.7zM826.5,600.0h1.3v0.9h-1.3zM1014.6,638.4h0.6v1.3h-0.6zM985.7,438.1h0.5v0.6h-0.5zM969.1,594.9h0.7v1.2h-0.7zM898.5,521.4h0.5v1.3h-0.5zM824.5,659.9h0.9v0.9h-0.9zM963.8,459.0h1.2v1.3h-1.2zM1048.1,564.9h0.5v1.1h-0.5zM874.7,657.7h0.6v0.9h-0.6zM1052.5,434.3h0.9v0.5h-0.9zM790.5,432.5h1.3v1.2h-1.3zM995.9,472.6h1.0v1.1h-1.0zM905.2,561.9h1.1v0.4h-1.1zM845.4,523.0h0.5v0.7h-0.5zM966.8,430.5h0.9v0.6h-0.9zM966.3,480.3h1.0v0.4h-1.0zM1000.1,421.5h1.3v0.9h-1.3zM934.1,505.2h1.0v1.0h-1.0zM1028.6,612.0h0.8v1.3h-0.8zM1054.9,644.5h0.8v0.8h-0.8zM965.6,660.2h0.9v0.9h-0.9zM921.8,659.9h0.7v0.4h-0.7zM1018.0,658.6h1.1v0.9h-1.1zM1026.6,471.7h0.9v0.5h-0.9zM820.8,516.3h0.9v0.8h-0.9zM797.0,594.2h0.9v0.6h-0.9zM880.5,500.2h0.6v0.5h-0.6zM1078.9,679.5h1.0v1.2h-1.0zM918.2,628.9h0.6v1.1h-0.6zM965.9,659.7h0.5v1.1h-0.5zM820.6,544.8h1.3v0.4h-1.3zM860.0,470.0h0.7v0.5h-0.7zM1073.6,632.1h0.8v0.7h-0.8zM972.0,390.4h0.4v1.2h-0.4zM881.0,532.5h1.2v1.3h-1.2zM935.0,440.8h0.7v1.2h-0.7zM1074.1,437.4h1.2v0.7h-1.2zM935.0,430.0h1.2v1.3h-1.2zM846.3,574.6h0.6v1.2h-0.6zM796.4,409.3h1.1v0.7h-1.1zM1075.3,649.1h1.0v0.5h-1.0zM1008.3,670.5h0.8v0.5h-0.8zM853.2,472.4h1.0v0.6h-1.0zM839.4,449.9h1.0v1.1h-1.0zM902.2,583.9h1.2v0.9h-1.2zM855.1,470.5h1.2v1.0h-1.2zM870.8,576.9h0.5v1.3h-0.5zM924.4,541.9h0.9v0.4h-0.9zM976.7,465.3h0.6v1.1h-0.6zM808.6,465.5h1.1v0.6h-1.1zM871.5,548.1h0.6v1.2h-0.6zM1104.0,386.6h0.8v1.1h-0.8zM906.2,667.8h0.8v0.6h-0.8zM962.4,578.5h0.7v1.0h-0.7zM1036.8,538.3h0.9v1.2h-0.9zM1004.4,539.4h1.3v0.6h-1.3zM1035.7,427.9h0.9v0.6h-0.9zM924.5,618.7h1.1v1.1h-1.1zM857.4,529.6h0.6v0.9h-0.6zM943.7,387.1h0.9v1.0h-0.9zM967.8,650.1h0.6v0.5h-0.6zM785.8,531.8h0.8v0.8h-0.8zM866.2,626.7h0.5v1.2h-0.5zM966.6,546.6h1.1v0.6h-1.1zM828.0,473.7h0.4v0.7h-0.4zM983.8,541.0h0.6v0.9h-0.6zM809.0,633.7h0.6v0.6h-0.6zM832.4,592.9h1.1v1.1h-1.1zM800.1,504.9h0.7v0.6h-0.7zM1098.3,389.2h0.8v1.1h-0.8zM1103.5,421.4h0.8v1.1h-0.8zM792.9,451.6h1.2v0.5h-1.2zM908.9,469.6h0.8v0.5h-0.8zM791.2,688.8h1.1v1.1h-1.1zM855.4,455.5h0.9v0.6h-0.9zM931.4,668.8h0.7v0.7h-0.7zM1101.8,567.8h0.4v0.8h-0.4zM993.1,394.4h0.7v1.0h-0.7zM1063.5,561.5h1.2v0.8h-1.2zM908.9,640.7h0.7v1.1h-0.7zM850.6,485.1h0.6v0.9h-0.6zM833.7,439.9h0.6v0.8h-0.6zM881.2,516.4h1.3v1.0h-1.3zM1063.0,440.2h0.7v0.5h-0.7zM1006.8,489.9h0.6v0.4h-0.6zM839.7,458.4h0.8v1.2h-0.8zM1014.6,460.3h0.7v0.5h-0.7zM1087.2,489.0h1.1v1.1h-1.1zM1077.5,382.4h0.7v0.7h-0.7zM807.3,653.1h0.7v1.1h-0.7zM950.3,393.2h0.8v0.6h-0.8zM793.4,423.4h0.9v0.4h-0.9zM882.4,509.2h0.9v0.5h-0.9zM1011.8,457.8h1.1v1.0h-1.1zM828.3,440.3h0.7v1.0h-0.7zM912.9,497.4h1.2v0.6h-1.2zM875.8,484.3h0.6v0.4h-0.6zM788.0,573.9h0.9v1.1h-0.9zM1100.0,469.6h1.0v1.2h-1.0zM850.9,592.4h1.0v1.3h-1.0zM1064.8,449.7h1.0v0.5h-1.0zM920.3,499.2h0.5v0.7h-0.5zM887.6,532.1h0.7v0.5h-0.7zM912.0,525.2h0.6v1.0h-0.6zM858.7,405.2h0.7v0.8h-0.7zM829.5,558.9h1.0v0.9h-1.0zM1009.7,383.2h0.8v0.7h-0.8zM800.6,503.0h0.4v0.8h-0.4zM972.2,523.2h0.7v0.6h-0.7zM787.7,485.0h1.2v0.9h-1.2zM865.9,585.8h0.6v0.8h-0.6zM981.8,675.8h0.7v0.9h-0.7zM1089.1,618.2h1.0v1.0h-1.0zM914.8,506.5h0.6v1.1h-0.6zM1068.5,495.9h1.2v0.4h-1.2zM824.6,535.2h0.7v0.7h-0.7zM1100.4,423.1h0.6v0.6h-0.6zM1003.1,449.6h0.4v0.9h-0.4zM909.2,451.2h0.8v1.0h-0.8zM959.8,572.1h0.9v1.1h-0.9zM1097.8,480.7h0.7v1.2h-0.7zM882.8,600.8h1.0v1.0h-1.0zM1096.2,634.9h0.5v1.0h-0.5zM940.9,553.0h0.7v0.7h-0.7zM1025.7,543.7h0.6v0.6h-0.6zM886.6,431.8h0.9v0.5h-0.9zM800.7,397.6h0.5v1.0h-0.5zM817.0,517.8h1.1v0.8h-1.1zM833.3,648.0h1.2v0.4h-1.2zM863.3,535.3h1.1v0.8h-1.1zM1014.8,455.1h1.0v0.7h-1.0zM889.5,614.4h1.2v1.1h-1.2zM966.1,508.1h1.0v1.0h-1.0zM1052.6,627.6h0.5v0.7h-0.5zM999.6,448.5h0.6v0.4h-0.6zM972.1,671.5h1.3v0.5h-1.3zM1005.5,507.7h1.0v0.8h-1.0zM1086.1,686.5h0.4v1.0h-0.4zM818.8,389.3h0.7v1.1h-0.7zM1105.9,413.7h0.7v0.4h-0.7zM958.0,527.7h0.7v0.7h-0.7zM1042.6,639.3h0.7v0.8h-0.7zM982.6,616.3h1.3v0.8h-1.3zM1007.6,547.4h1.1v0.5h-1.1zM837.4,409.6h1.2v0.6h-1.2zM940.2,413.8h0.7v0.4h-0.7zM965.6,421.1h1.0v0.6h-1.0zM854.6,527.4h0.7v0.6h-0.7zM796.8,396.2h1.2v0.7h-1.2zM805.7,433.3h0.8v1.3h-0.8zM846.3,648.3h0.8v0.8h-0.8zM1044.7,500.3h0.5v0.9h-0.5zM995.5,571.6h0.6v1.2h-0.6zM1063.6,688.2h0.8v1.2h-0.8zM1017.8,431.2h0.4v0.6h-0.4zM819.0,399.4h0.7v1.1h-0.7zM881.7,537.5h0.4v0.6h-0.4zM1094.6,379.5h0.9v1.1h-0.9zM1039.9,606.9h0.8v1.1h-0.8zM1051.5,617.1h1.3v0.5h-1.3zM1091.7,502.3h1.0v0.6h-1.0zM1078.4,383.4h0.9v0.6h-0.9zM907.4,492.0h1.0v1.1h-1.0zM899.6,576.3h0.7v0.7h-0.7zM1076.9,477.0h0.5v0.7h-0.5zM1023.3,442.4h1.1v0.9h-1.1zM1003.1,431.7h0.5v0.5h-0.5zM894.9,511.3h0.4v0.9h-0.4zM912.3,477.0h0.9v1.3h-0.9zM847.1,652.5h0.7v1.1h-0.7zM815.5,686.1h0.8v1.3h-0.8zM852.0,504.2h1.0v0.6h-1.0zM869.7,588.6h1.3v0.7h-1.3zM840.2,488.2h1.3v0.5h-1.3zM988.2,494.7h1.0v0.6h-1.0zM982.1,654.7h1.2v1.0h-1.2zM945.6,554.3h0.5v1.2h-0.5zM1006.3,518.3h1.0v0.8h-1.0zM906.2,448.2h0.9v0.9h-0.9zM949.0,386.1h1.0v0.8h-1.0zM974.6,562.7h1.2v0.5h-1.2zM933.7,687.8h1.1v0.7h-1.1zM1021.7,686.7h0.8v1.2h-0.8zM821.6,686.9h0.8v0.6h-0.8zM1055.6,579.9h1.2v1.1h-1.2zM1041.6,536.6h1.3v0.5h-1.3zM1065.4,599.5h0.6v1.1h-0.6zM928.9,544.4h1.2v0.6h-1.2zM871.7,578.1h0.5v0.9h-0.5zM1038.2,530.1h0.6v1.1h-0.6zM1060.5,618.0h0.9v1.2h-0.9zM1041.3,423.7h0.7v0.5h-0.7zM792.1,484.6h1.2v1.2h-1.2zM818.5,433.1h0.7v1.2h-0.7zM982.4,659.2h0.5v1.3h-0.5zM847.8,573.6h1.2v1.1h-1.2zM844.6,585.9h0.8v0.4h-0.8zM891.4,475.0h1.0v0.7h-1.0zM977.8,594.2h0.6v0.5h-0.6zM1007.6,522.5h0.5v0.5h-0.5zM1088.7,567.5h0.7v0.6h-0.7zM1106.3,593.2h1.1v0.7h-1.1zM881.8,504.2h0.5v1.0h-0.5zM919.3,633.5h0.8v0.8h-0.8zM946.1,671.7h0.7v1.0h-0.7zM857.1,557.9h0.7v1.2h-0.7zM874.0,644.3h1.0v0.8h-1.0zM1086.2,497.7h1.1v0.9h-1.1zM927.1,396.2h0.8v0.7h-0.8zM924.6,675.7h0.7v1.0h-0.7zM1000.4,452.8h0.8v0.5h-0.8zM1073.7,455.0h0.8v0.7h-0.8zM1049.1,643.0h0.9v0.9h-0.9zM812.6,657.5h0.5v0.7h-0.5zM902.8,603.0h1.0v0.7h-1.0zM1074.5,674.2h0.4v1.0h-0.4zM933.9,489.6h0.8v0.7h-0.8zM1000.0,566.1h1.3v1.3h-1.3zM1105.6,500.1h1.1v1.0h-1.1zM1009.9,689.3h0.5v0.8h-0.5zM911.6,582.0h0.6v1.3h-0.6zM848.7,492.2h0.5v0.8h-0.5zM1023.3,402.2h0.6v1.0h-0.6zM984.3,609.0h0.6v1.1h-0.6zM1019.7,619.7h0.5v0.8h-0.5zM785.2,645.9h1.3v1.2h-1.3zM787.9,486.2h0.9v0.9h-0.9zM816.5,623.8h0.7v0.9h-0.7zM820.9,554.3h0.5v0.5h-0.5zM948.0,468.3h1.1v0.6h-1.1zM915.8,393.0h0.6v0.8h-0.6zM963.1,520.2h1.2v0.5h-1.2zM1058.8,424.6h1.3v0.9h-1.3zM913.3,568.2h1.2v1.3h-1.2zM915.6,379.4h0.5v1.1h-0.5zM1020.9,599.8h0.5v0.9h-0.5zM789.4,410.6h0.7v1.3h-0.7zM990.9,642.2h0.4v0.8h-0.4zM805.7,457.9h0.5v1.2h-0.5zM887.8,529.5h1.0v1.2h-1.0zM1090.4,554.3h0.9v1.2h-0.9zM909.4,470.0h1.1v0.6h-1.1zM900.7,510.8h0.8v0.7h-0.8zM921.2,517.6h0.4v1.2h-0.4zM800.2,541.8h0.9v0.8h-0.9zM853.0,407.1h0.7v0.7h-0.7zM938.8,448.3h1.1v0.8h-1.1zM782.9,503.7h1.3v0.4h-1.3zM974.6,677.7h0.7v0.9h-0.7zM901.0,470.6h0.9v0.9h-0.9zM883.4,532.3h0.9v1.1h-0.9zM797.4,405.1h0.6v0.6h-0.6zM1041.0,509.6h1.2v0.8h-1.2zM873.7,589.5h0.5v1.3h-0.5zM1052.7,479.1h0.7v1.1h-0.7zM1038.6,577.7h0.5v1.1h-0.5zM795.7,572.2h0.9v1.2h-0.9zM989.5,383.0h1.2v1.1h-1.2zM970.2,377.8h1.1v0.8h-1.1zM1002.9,684.9h1.2v0.5h-1.2zM1036.3,514.3h1.1v0.7h-1.1zM926.8,513.2h0.5v0.7h-0.5zM1021.0,398.4h0.5v1.2h-0.5zM998.5,548.1h0.5v0.5h-0.5zM881.7,675.5h0.9v1.2h-0.9zM849.3,506.3h0.9v1.2h-0.9zM820.5,650.3h0.8v0.4h-0.8zM921.7,494.5h1.0v1.2h-1.0zM941.9,592.5h0.7v1.1h-0.7zM814.5,609.1h0.5v0.9h-0.5zM846.3,484.7h0.5v0.7h-0.5zM974.0,539.3h0.7v0.9h-0.7zM1056.3,488.5h0.9v0.8h-0.9zM1101.6,479.0h1.0v0.6h-1.0zM865.7,605.3h0.9v0.6h-0.9zM801.0,635.0h0.7v1.0h-0.7zM921.9,569.9h0.9v1.3h-0.9zM1078.4,519.1h0.8v0.6h-0.8zM1027.0,408.1h0.7v1.2h-0.7zM791.5,595.3h0.9v0.9h-0.9zM889.2,423.6h1.3v1.1h-1.3zM1044.3,406.7h1.1v0.6h-1.1zM845.4,544.0h0.9v0.5h-0.9zM1030.9,558.9h1.2v1.2h-1.2zM1006.1,490.3h1.3v1.0h-1.3zM875.4,645.3h1.1v0.6h-1.1zM861.7,382.4h0.9v0.6h-0.9zM876.1,455.4h0.5v0.8h-0.5z" fill="#fff" fill-opacity="0.22"/>
</g>
<g fill="none" stroke="#1c1c1c" stroke-opacity="0.6" stroke-width="0.4" stroke-linejoin="round"><path d="M857.3,532.2 L861.0,537.4 L867.0,538.1 L871.4,540.3 L869.9,546.3 L872.9,552.9 L877.4,550.7 L878.8,547.8 L885.5,549.5"/><path d="M906.6,566.7 L904.1,571.5 L905.5,575.9 L901.1,578.9 L900.4,584.1"/><path d="M946.8,538.9 L949.6,544.4 L954.5,545.1 L955.2,549.3 L950.3,550.7 L947.5,547.9 L948.9,544.4"/><path d="M950.6,570.3 L944.7,568.9 L940.5,570.3 L937.0,569.6 L934.9,573.8 L934.9,577.3 L938.4,575.9 L941.9,572.4 L946.1,571.7"/><path d="M1025.6,523.7 L1031.0,525.5 L1032.5,531.4 L1028.1,538.9 L1031.8,544.8 L1035.5,550.7 L1039.9,556.7 L1037.0,561.8 L1028.1,567.8 L1032.5,573.0 L1034.0,581.9 L1034.7,587.1"/><path d="M1034.7,587.0 L1036.2,595.9 L1044.4,598.9 L1048.8,603.3 L1054.0,603.8"/><path d="M1044.1,451.7 L1042.9,461.0 L1039.9,469.9 L1035.8,477.4"/><path d="M997.7,492.9 L995.4,500.3 L991.0,506.2 L988.0,511.1"/><path d="M934.2,416.4 L942.0,414.0 L950.0,419.0 L956.0,423.0 L961.1,424.5"/><path d="M906.1,490.2 L912.0,488.0 L918.0,484.0 L926.0,482.0 L934.0,483.0 L941.5,485.3"/><path d="M855.5,491.7 L865.0,493.0 L872.0,497.0 L882.4,501.9"/><path d="M923.9,514.1 L930.0,510.0 L936.0,506.0 L938.0,501.0 L935.2,499.0"/><path d="M931.8,627.8 L936.0,634.0 L940.0,640.0 L945.0,643.0 L949.0,646.8"/><path d="M925.1,637.4 L918.0,640.0 L914.0,645.0 L920.0,648.0 L930.0,646.0 L938.0,650.0"/><path d="M838.5,618.9 L846.0,626.0 L852.0,629.0 L858.0,627.0 L862.0,632.0 L869.9,637.4"/><path d="M916.4,605.5 L922.0,602.0 L926.0,598.0 L924.0,592.0 L925.7,584.5"/><path d="M1001.0,591.7 L998.0,597.0 L994.0,603.0 L990.0,610.7"/><path d="M1005.4,609.0 L1002.0,614.0 L1006.0,618.0 L1010.0,621.0 L1014.4,623.0"/><path d="M1025.1,606.3 L1020.0,608.0 L1016.0,611.0 L1019.0,612.0"/><path d="M814.0,480.7 L820.0,478.0 L826.0,474.0 L834.0,472.0 L843.3,470.2"/><path d="M789.5,476.8 L791.0,470.0 L795.0,464.0 L793.0,458.0 L796.0,452.0 L803.5,448.7"/></g>
<g font-family="Liberation Serif" font-weight="bold" font-size="5.6" fill="#fff" text-anchor="middle">
<circle cx="920.7" cy="400.5" r="4.25" fill="#161616"/><text x="920.7" y="402.4">1</text>
<circle cx="858.7" cy="420.1" r="4.25" fill="#161616"/><text x="858.7" y="422.0">4</text>
<circle cx="889.5" cy="420.1" r="4.25" fill="#161616"/><text x="889.5" y="422.0">1</text>
<circle cx="901.2" cy="421.8" r="4.25" fill="#161616"/><text x="901.2" y="423.7">2</text>
<circle cx="853.1" cy="432.3" r="4.25" fill="#161616"/><text x="853.1" y="434.2">4</text>
<circle cx="866.0" cy="429.4" r="4.25" fill="#161616"/><text x="866.0" y="431.3">5</text>
<circle cx="875.5" cy="435.5" r="4.25" fill="#161616"/><text x="875.5" y="437.4">3</text>
<circle cx="927.1" cy="436.5" r="4.25" fill="#161616"/><text x="927.1" y="438.4">2</text>
<circle cx="934.2" cy="416.4" r="4.25" fill="#161616"/><text x="934.2" y="418.3" textLength="6.0" lengthAdjust="spacingAndGlyphs">13</text>
<circle cx="961.1" cy="424.5" r="4.25" fill="#161616"/><text x="961.1" y="426.4" textLength="6.0" lengthAdjust="spacingAndGlyphs">13</text>
<circle cx="854.8" cy="447.7" r="4.25" fill="#161616"/><text x="854.8" y="449.6">5</text>
<circle cx="840.1" cy="449.4" r="4.25" fill="#161616"/><text x="840.1" y="451.3">5</text>
<circle cx="803.5" cy="448.7" r="4.25" fill="#161616"/><text x="803.5" y="450.6">6</text>
<circle cx="785.9" cy="452.6" r="4.25" fill="#161616"/><text x="785.9" y="454.5">7</text>
<circle cx="789.5" cy="476.8" r="4.25" fill="#161616"/><text x="789.5" y="478.7">6</text>
<circle cx="843.3" cy="470.2" r="4.25" fill="#161616"/><text x="843.3" y="472.1">8</text>
<circle cx="814.0" cy="480.7" r="4.25" fill="#161616"/><text x="814.0" y="482.6">8</text>
<circle cx="855.5" cy="491.7" r="4.25" fill="#161616"/><text x="855.5" y="493.6">9</text>
<circle cx="882.4" cy="501.9" r="4.25" fill="#161616"/><text x="882.4" y="503.8">9</text>
<circle cx="906.1" cy="490.2" r="4.25" fill="#161616"/><text x="906.1" y="492.1" textLength="6.0" lengthAdjust="spacingAndGlyphs">10</text>
<circle cx="941.5" cy="485.3" r="4.25" fill="#161616"/><text x="941.5" y="487.2" textLength="6.0" lengthAdjust="spacingAndGlyphs">10</text>
<circle cx="935.2" cy="499.0" r="4.25" fill="#161616"/><text x="935.2" y="500.9" textLength="6.0" lengthAdjust="spacingAndGlyphs">11</text>
<circle cx="923.9" cy="514.1" r="4.25" fill="#161616"/><text x="923.9" y="516.0" textLength="6.0" lengthAdjust="spacingAndGlyphs">11</text>
<circle cx="947.9" cy="463.8" r="4.25" fill="#161616"/><text x="947.9" y="465.7" textLength="6.0" lengthAdjust="spacingAndGlyphs">12</text>
<circle cx="1044.1" cy="451.4" r="4.25" fill="#161616"/><text x="1044.1" y="453.3" textLength="6.0" lengthAdjust="spacingAndGlyphs">14</text>
<circle cx="1032.2" cy="465.8" r="4.25" fill="#161616"/><text x="1032.2" y="467.7" textLength="6.0" lengthAdjust="spacingAndGlyphs">15</text>
<circle cx="1035.6" cy="477.5" r="4.25" fill="#161616"/><text x="1035.6" y="479.4" textLength="6.0" lengthAdjust="spacingAndGlyphs">14</text>
<circle cx="998.0" cy="492.6" r="4.25" fill="#161616"/><text x="998.0" y="494.5" textLength="6.0" lengthAdjust="spacingAndGlyphs">16</text>
<circle cx="988.2" cy="511.0" r="4.25" fill="#161616"/><text x="988.2" y="512.9" textLength="6.0" lengthAdjust="spacingAndGlyphs">16</text>
<circle cx="1025.5" cy="523.6" r="4.25" fill="#161616"/><text x="1025.5" y="525.5" textLength="6.0" lengthAdjust="spacingAndGlyphs">27</text>
<circle cx="848.2" cy="532.3" r="4.25" fill="#161616"/><text x="848.2" y="534.2" textLength="6.0" lengthAdjust="spacingAndGlyphs">17</text>
<circle cx="946.6" cy="538.8" r="4.25" fill="#161616"/><text x="946.6" y="540.7" textLength="6.0" lengthAdjust="spacingAndGlyphs">25</text>
<circle cx="885.5" cy="549.5" r="4.25" fill="#161616"/><text x="885.5" y="551.4" textLength="6.0" lengthAdjust="spacingAndGlyphs">17</text>
<circle cx="906.6" cy="566.7" r="4.25" fill="#161616"/><text x="906.6" y="568.6" textLength="6.0" lengthAdjust="spacingAndGlyphs">18</text>
<circle cx="900.4" cy="584.1" r="4.25" fill="#161616"/><text x="900.4" y="586.0" textLength="6.0" lengthAdjust="spacingAndGlyphs">15</text>
<circle cx="925.7" cy="584.5" r="4.25" fill="#161616"/><text x="925.7" y="586.4" textLength="6.0" lengthAdjust="spacingAndGlyphs">19</text>
<circle cx="950.6" cy="570.3" r="4.25" fill="#161616"/><text x="950.6" y="572.2" textLength="6.0" lengthAdjust="spacingAndGlyphs">26</text>
<circle cx="976.1" cy="585.8" r="4.25" fill="#161616"/><text x="976.1" y="587.7" textLength="6.0" lengthAdjust="spacingAndGlyphs">28</text>
<circle cx="939.6" cy="593.8" r="4.25" fill="#161616"/><text x="939.6" y="595.7" textLength="6.0" lengthAdjust="spacingAndGlyphs">20</text>
<circle cx="958.5" cy="593.7" r="4.25" fill="#161616"/><text x="958.5" y="595.6" textLength="6.0" lengthAdjust="spacingAndGlyphs">21</text>
<circle cx="916.4" cy="605.5" r="4.25" fill="#161616"/><text x="916.4" y="607.4" textLength="6.0" lengthAdjust="spacingAndGlyphs">20</text>
<circle cx="1001.0" cy="591.7" r="4.25" fill="#161616"/><text x="1001.0" y="593.6" textLength="6.0" lengthAdjust="spacingAndGlyphs">31</text>
<circle cx="990.0" cy="610.7" r="4.25" fill="#161616"/><text x="990.0" y="612.6" textLength="6.0" lengthAdjust="spacingAndGlyphs">34</text>
<circle cx="1005.4" cy="609.0" r="4.25" fill="#161616"/><text x="1005.4" y="610.9" textLength="6.0" lengthAdjust="spacingAndGlyphs">29</text>
<circle cx="1025.1" cy="606.3" r="4.25" fill="#161616"/><text x="1025.1" y="608.2" textLength="6.0" lengthAdjust="spacingAndGlyphs">30</text>
<circle cx="1054.0" cy="603.8" r="4.25" fill="#161616"/><text x="1054.0" y="605.7" textLength="6.0" lengthAdjust="spacingAndGlyphs">33</text>
<circle cx="1053.3" cy="612.7" r="4.25" fill="#161616"/><text x="1053.3" y="614.6" textLength="6.0" lengthAdjust="spacingAndGlyphs">27</text>
<circle cx="989.2" cy="620.8" r="4.25" fill="#161616"/><text x="989.2" y="622.7" textLength="6.0" lengthAdjust="spacingAndGlyphs">32</text>
<circle cx="1014.4" cy="623.0" r="4.25" fill="#161616"/><text x="1014.4" y="624.9" textLength="6.0" lengthAdjust="spacingAndGlyphs">29</text>
<circle cx="1034.7" cy="619.3" r="4.25" fill="#161616"/><text x="1034.7" y="621.2" textLength="6.0" lengthAdjust="spacingAndGlyphs">34</text>
<circle cx="949.0" cy="646.8" r="4.25" fill="#161616"/><text x="949.0" y="648.7" textLength="6.0" lengthAdjust="spacingAndGlyphs">24</text>
<circle cx="1100.5" cy="637.4" r="4.25" fill="#161616"/><text x="1100.5" y="639.3" textLength="6.0" lengthAdjust="spacingAndGlyphs">35</text>
<circle cx="1101.5" cy="670.8" r="4.25" fill="#161616"/><text x="1101.5" y="672.7" textLength="6.0" lengthAdjust="spacingAndGlyphs">35</text>
<circle cx="838.5" cy="618.9" r="4.25" fill="#161616"/><text x="838.5" y="620.8" textLength="6.0" lengthAdjust="spacingAndGlyphs">23</text>
<circle cx="869.9" cy="637.4" r="4.25" fill="#161616"/><text x="869.9" y="639.3" textLength="6.0" lengthAdjust="spacingAndGlyphs">23</text>
<circle cx="931.8" cy="627.8" r="4.25" fill="#161616"/><text x="931.8" y="629.7" textLength="6.0" lengthAdjust="spacingAndGlyphs">22</text>
<circle cx="925.1" cy="637.4" r="4.25" fill="#161616"/><text x="925.1" y="639.3" textLength="6.0" lengthAdjust="spacingAndGlyphs">22</text>
</g></svg>
<svg width="1146" height="716" viewBox="0 0 1146 716"><rect x="0" y="686" width="49.8" height="30" fill="#4e76aa"/><g font-family="Liberation Sans" font-weight="bold" fill="#eef3fb" stroke="#eef3fb" stroke-width="0.6"><text transform="translate(4.6,705.9) rotate(-12.9) scale(0.82,1)" font-size="11">Librairie</text><text transform="translate(17.3,712.7) rotate(-13.5) scale(0.79,1)" font-size="11.4">Voyage</text><text transform="translate(9.6,709.6) rotate(-13) scale(0.8,1)" font-size="5.6" fill="#c4d6ee" stroke="#c4d6ee" stroke-width="0.3">du</text><text transform="translate(25,691.6) rotate(-13) scale(0.9,1)" font-size="3.6" stroke-width="0.2">LA</text></g></svg>
</div></body></html>
